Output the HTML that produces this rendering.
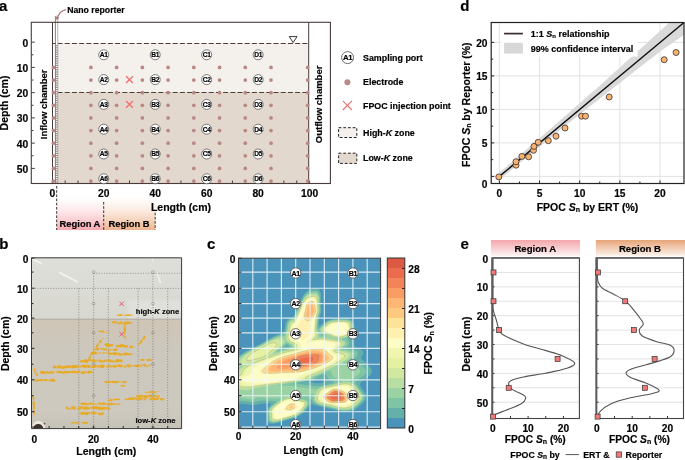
<!DOCTYPE html>
<html><head><meta charset="utf-8"><style>
html,body{margin:0;padding:0;background:#fff;}
body{width:685px;height:460px;overflow:hidden;position:relative;}
svg{position:absolute;left:0;top:0;will-change:transform;}
text{font-family:"Liberation Sans",sans-serif;stroke:#000;stroke-width:0.18px;}
</style></head><body>
<svg width="685" height="460" viewBox="0 0 685 460">
<text x="-1.00" y="10.50" font-size="15" font-weight="bold" text-anchor="start" fill="#000" >a</text>
<rect x="57.5" y="43" width="251.2" height="49.3" fill="#f4f0ec"/>
<rect x="57.5" y="92.3" width="251.2" height="91.2" fill="#e3d8cd"/>
<line x1="57.5" y1="43.5" x2="308.7" y2="43.5" stroke="#4d3d3d" stroke-width="1.05" stroke-dasharray="5 2.2"/>
<line x1="57.5" y1="92.5" x2="308.7" y2="92.5" stroke="#4d3d3d" stroke-width="1.05" stroke-dasharray="5 2.2"/>
<rect x="55.3" y="16.2" width="2.5" height="167.3" fill="#fff"/>
<path d="M55.4,16.2V183.5" stroke="#6a6060" stroke-width="0.8"/>
<path d="M57.8,16.2V183.5" stroke="#aaa2a2" stroke-width="0.8"/>
<path d="M55.4,16.2H57.8" stroke="#999" stroke-width="0.6"/>
<path d="M55.6,45.6H57.6M55.6,47.8H57.6M55.6,50.0H57.6M55.6,52.2H57.6M55.6,54.4H57.6M55.6,56.6H57.6M55.6,58.8H57.6M55.6,61.0H57.6M55.6,63.2H57.6M55.6,65.4H57.6M55.6,67.6H57.6M55.6,69.8H57.6M55.6,72.0H57.6M55.6,74.2H57.6M55.6,76.4H57.6M55.6,78.6H57.6M55.6,80.8H57.6M55.6,83.0H57.6M55.6,85.2H57.6M55.6,87.4H57.6M55.6,89.6H57.6M55.6,91.8H57.6M55.6,94.0H57.6M55.6,96.2H57.6M55.6,98.4H57.6M55.6,100.6H57.6M55.6,102.8H57.6M55.6,105.0H57.6M55.6,107.2H57.6M55.6,109.4H57.6M55.6,111.6H57.6M55.6,113.8H57.6M55.6,116.0H57.6M55.6,118.2H57.6M55.6,120.4H57.6M55.6,122.6H57.6M55.6,124.8H57.6M55.6,127.0H57.6M55.6,129.2H57.6M55.6,131.4H57.6M55.6,133.6H57.6M55.6,135.8H57.6M55.6,138.0H57.6M55.6,140.2H57.6M55.6,142.4H57.6M55.6,144.6H57.6M55.6,146.8H57.6M55.6,149.0H57.6M55.6,151.2H57.6M55.6,153.4H57.6M55.6,155.6H57.6M55.6,157.8H57.6M55.6,160.0H57.6M55.6,162.2H57.6M55.6,164.4H57.6M55.6,166.6H57.6M55.6,168.8H57.6M55.6,171.0H57.6M55.6,173.2H57.6M55.6,175.4H57.6M55.6,177.6H57.6M55.6,179.8H57.6M55.6,182.0H57.6" stroke="#5a5050" stroke-width="0.75" fill="none"/>
<path d="M52.5,43.5H55.4" stroke="#4d3d3d" stroke-width="1.05"/>
<line x1="52.5" y1="22.3" x2="52.5" y2="183.5" stroke="#4a3b3b" stroke-width="1"/>
<line x1="308.7" y1="22.3" x2="308.7" y2="183.5" stroke="#4a3b3b" stroke-width="1"/>
<rect x="31.3" y="22.3" width="299.1" height="161.2" fill="none" stroke="#4a3b3b" stroke-width="1.1"/>
<path d="M31.3,42.15h3.5M31.3,54.77h2.2M31.3,67.40h3.5M31.3,80.03h2.2M31.3,92.65h3.5M31.3,105.28h2.2M31.3,117.90h3.5M31.3,130.53h2.2M31.3,143.15h3.5M31.3,155.78h2.2M31.3,168.40h3.5M52.30,183.5v-3M65.16,183.5v-3M78.03,183.5v-3M90.89,183.5v-3M103.76,183.5v-3M116.62,183.5v-3M129.49,183.5v-3M142.35,183.5v-3M155.22,183.5v-3M168.08,183.5v-3M180.95,183.5v-3M193.81,183.5v-3M206.68,183.5v-3M219.55,183.5v-3M232.41,183.5v-3M245.27,183.5v-3M258.14,183.5v-3M271.00,183.5v-3M283.87,183.5v-3M296.74,183.5v-3M309.60,183.5v-3" stroke="#4a3b3b" stroke-width="1" fill="none"/>
<text x="28.20" y="46.65" font-size="10.3" font-weight="bold" text-anchor="end" fill="#000" >0</text>
<text x="28.20" y="71.90" font-size="10.3" font-weight="bold" text-anchor="end" fill="#000" >10</text>
<text x="28.20" y="97.15" font-size="10.3" font-weight="bold" text-anchor="end" fill="#000" >20</text>
<text x="28.20" y="122.40" font-size="10.3" font-weight="bold" text-anchor="end" fill="#000" >30</text>
<text x="28.20" y="147.65" font-size="10.3" font-weight="bold" text-anchor="end" fill="#000" >40</text>
<text x="28.20" y="172.90" font-size="10.3" font-weight="bold" text-anchor="end" fill="#000" >50</text>
<text x="52.30" y="197.00" font-size="10.3" font-weight="bold" text-anchor="middle" fill="#000" >0</text>
<text x="103.76" y="197.00" font-size="10.3" font-weight="bold" text-anchor="middle" fill="#000" >20</text>
<text x="155.22" y="197.00" font-size="10.3" font-weight="bold" text-anchor="middle" fill="#000" >40</text>
<text x="206.68" y="197.00" font-size="10.3" font-weight="bold" text-anchor="middle" fill="#000" >60</text>
<text x="258.14" y="197.00" font-size="10.3" font-weight="bold" text-anchor="middle" fill="#000" >80</text>
<text x="309.60" y="197.00" font-size="10.3" font-weight="bold" text-anchor="middle" fill="#000" >100</text>
<text transform="translate(8.3,103) rotate(-90)" font-size="10.5" font-weight="bold" text-anchor="middle" fill="#000">Depth (cm)</text>
<text transform="translate(47,104.3) rotate(-90)" font-size="9.5" font-weight="bold" text-anchor="middle" fill="#000">Inflow chamber</text>
<text transform="translate(322.4,104.4) rotate(-90)" font-size="9.5" font-weight="bold" text-anchor="middle" fill="#000">Outflow chamber</text>
<g fill="#b98784"><circle cx="53.40" cy="67.40" r="1.85"/><circle cx="53.40" cy="80.03" r="1.85"/><circle cx="53.40" cy="92.65" r="1.85"/><circle cx="53.40" cy="105.28" r="1.85"/><circle cx="53.40" cy="117.90" r="1.85"/><circle cx="53.40" cy="130.53" r="1.85"/><circle cx="53.40" cy="143.15" r="1.85"/><circle cx="53.40" cy="155.78" r="1.85"/><circle cx="53.40" cy="168.40" r="1.85"/><circle cx="53.40" cy="181.03" r="1.85"/><circle cx="90.89" cy="67.40" r="1.85"/><circle cx="90.89" cy="80.03" r="1.85"/><circle cx="90.89" cy="92.65" r="1.85"/><circle cx="90.89" cy="105.28" r="1.85"/><circle cx="90.89" cy="117.90" r="1.85"/><circle cx="90.89" cy="130.53" r="1.85"/><circle cx="90.89" cy="143.15" r="1.85"/><circle cx="90.89" cy="155.78" r="1.85"/><circle cx="90.89" cy="168.40" r="1.85"/><circle cx="90.89" cy="181.03" r="1.85"/><circle cx="116.62" cy="67.40" r="1.85"/><circle cx="116.62" cy="80.03" r="1.85"/><circle cx="116.62" cy="92.65" r="1.85"/><circle cx="116.62" cy="105.28" r="1.85"/><circle cx="116.62" cy="117.90" r="1.85"/><circle cx="116.62" cy="130.53" r="1.85"/><circle cx="116.62" cy="143.15" r="1.85"/><circle cx="116.62" cy="155.78" r="1.85"/><circle cx="116.62" cy="168.40" r="1.85"/><circle cx="116.62" cy="181.03" r="1.85"/><circle cx="142.35" cy="67.40" r="1.85"/><circle cx="142.35" cy="80.03" r="1.85"/><circle cx="142.35" cy="92.65" r="1.85"/><circle cx="142.35" cy="105.28" r="1.85"/><circle cx="142.35" cy="117.90" r="1.85"/><circle cx="142.35" cy="130.53" r="1.85"/><circle cx="142.35" cy="143.15" r="1.85"/><circle cx="142.35" cy="155.78" r="1.85"/><circle cx="142.35" cy="168.40" r="1.85"/><circle cx="142.35" cy="181.03" r="1.85"/><circle cx="168.08" cy="67.40" r="1.85"/><circle cx="168.08" cy="80.03" r="1.85"/><circle cx="168.08" cy="92.65" r="1.85"/><circle cx="168.08" cy="105.28" r="1.85"/><circle cx="168.08" cy="117.90" r="1.85"/><circle cx="168.08" cy="130.53" r="1.85"/><circle cx="168.08" cy="143.15" r="1.85"/><circle cx="168.08" cy="155.78" r="1.85"/><circle cx="168.08" cy="168.40" r="1.85"/><circle cx="168.08" cy="181.03" r="1.85"/><circle cx="193.81" cy="67.40" r="1.85"/><circle cx="193.81" cy="80.03" r="1.85"/><circle cx="193.81" cy="92.65" r="1.85"/><circle cx="193.81" cy="105.28" r="1.85"/><circle cx="193.81" cy="117.90" r="1.85"/><circle cx="193.81" cy="130.53" r="1.85"/><circle cx="193.81" cy="143.15" r="1.85"/><circle cx="193.81" cy="155.78" r="1.85"/><circle cx="193.81" cy="168.40" r="1.85"/><circle cx="193.81" cy="181.03" r="1.85"/><circle cx="219.55" cy="67.40" r="1.85"/><circle cx="219.55" cy="80.03" r="1.85"/><circle cx="219.55" cy="92.65" r="1.85"/><circle cx="219.55" cy="105.28" r="1.85"/><circle cx="219.55" cy="117.90" r="1.85"/><circle cx="219.55" cy="130.53" r="1.85"/><circle cx="219.55" cy="143.15" r="1.85"/><circle cx="219.55" cy="155.78" r="1.85"/><circle cx="219.55" cy="168.40" r="1.85"/><circle cx="219.55" cy="181.03" r="1.85"/><circle cx="245.27" cy="67.40" r="1.85"/><circle cx="245.27" cy="80.03" r="1.85"/><circle cx="245.27" cy="92.65" r="1.85"/><circle cx="245.27" cy="105.28" r="1.85"/><circle cx="245.27" cy="117.90" r="1.85"/><circle cx="245.27" cy="130.53" r="1.85"/><circle cx="245.27" cy="143.15" r="1.85"/><circle cx="245.27" cy="155.78" r="1.85"/><circle cx="245.27" cy="168.40" r="1.85"/><circle cx="245.27" cy="181.03" r="1.85"/><circle cx="271.00" cy="67.40" r="1.85"/><circle cx="271.00" cy="80.03" r="1.85"/><circle cx="271.00" cy="92.65" r="1.85"/><circle cx="271.00" cy="105.28" r="1.85"/><circle cx="271.00" cy="117.90" r="1.85"/><circle cx="271.00" cy="130.53" r="1.85"/><circle cx="271.00" cy="143.15" r="1.85"/><circle cx="271.00" cy="155.78" r="1.85"/><circle cx="271.00" cy="168.40" r="1.85"/><circle cx="271.00" cy="181.03" r="1.85"/><circle cx="307.70" cy="67.40" r="1.85"/><circle cx="307.70" cy="80.03" r="1.85"/><circle cx="307.70" cy="92.65" r="1.85"/><circle cx="307.70" cy="105.28" r="1.85"/><circle cx="307.70" cy="117.90" r="1.85"/><circle cx="307.70" cy="130.53" r="1.85"/><circle cx="307.70" cy="143.15" r="1.85"/><circle cx="307.70" cy="155.78" r="1.85"/><circle cx="307.70" cy="168.40" r="1.85"/><circle cx="307.70" cy="181.03" r="1.85"/></g>
<path d="M126.09,76.20L132.89,83.00M126.09,83.00L132.89,76.20" stroke="#f27070" stroke-width="1.3" fill="none"/>
<path d="M126.09,101.00L132.89,107.80M126.09,107.80L132.89,101.00" stroke="#f27070" stroke-width="1.3" fill="none"/>
<circle cx="103.76" cy="54.80" r="5.0" fill="#fff" stroke="#5a5a5a" stroke-width="0.8"/>
<text x="103.76" y="57.21" font-size="6.7" font-weight="bold" text-anchor="middle" fill="#000" letter-spacing="-0.3">A1</text>
<circle cx="103.76" cy="79.60" r="5.0" fill="#fff" stroke="#5a5a5a" stroke-width="0.8"/>
<text x="103.76" y="82.01" font-size="6.7" font-weight="bold" text-anchor="middle" fill="#000" letter-spacing="-0.3">A2</text>
<circle cx="103.76" cy="104.40" r="5.0" fill="#fff" stroke="#5a5a5a" stroke-width="0.8"/>
<text x="103.76" y="106.81" font-size="6.7" font-weight="bold" text-anchor="middle" fill="#000" letter-spacing="-0.3">A3</text>
<circle cx="103.76" cy="129.20" r="5.0" fill="#fff" stroke="#5a5a5a" stroke-width="0.8"/>
<text x="103.76" y="131.61" font-size="6.7" font-weight="bold" text-anchor="middle" fill="#000" letter-spacing="-0.3">A4</text>
<circle cx="103.76" cy="154.00" r="5.0" fill="#fff" stroke="#5a5a5a" stroke-width="0.8"/>
<text x="103.76" y="156.41" font-size="6.7" font-weight="bold" text-anchor="middle" fill="#000" letter-spacing="-0.3">A5</text>
<circle cx="103.76" cy="178.80" r="5.0" fill="#fff" stroke="#5a5a5a" stroke-width="0.8"/>
<text x="103.76" y="181.21" font-size="6.7" font-weight="bold" text-anchor="middle" fill="#000" letter-spacing="-0.3">A6</text>
<circle cx="155.22" cy="54.80" r="5.0" fill="#fff" stroke="#5a5a5a" stroke-width="0.8"/>
<text x="155.22" y="57.21" font-size="6.7" font-weight="bold" text-anchor="middle" fill="#000" letter-spacing="-0.3">B1</text>
<circle cx="155.22" cy="79.60" r="5.0" fill="#fff" stroke="#5a5a5a" stroke-width="0.8"/>
<text x="155.22" y="82.01" font-size="6.7" font-weight="bold" text-anchor="middle" fill="#000" letter-spacing="-0.3">B2</text>
<circle cx="155.22" cy="104.40" r="5.0" fill="#fff" stroke="#5a5a5a" stroke-width="0.8"/>
<text x="155.22" y="106.81" font-size="6.7" font-weight="bold" text-anchor="middle" fill="#000" letter-spacing="-0.3">B3</text>
<circle cx="155.22" cy="129.20" r="5.0" fill="#fff" stroke="#5a5a5a" stroke-width="0.8"/>
<text x="155.22" y="131.61" font-size="6.7" font-weight="bold" text-anchor="middle" fill="#000" letter-spacing="-0.3">B4</text>
<circle cx="155.22" cy="154.00" r="5.0" fill="#fff" stroke="#5a5a5a" stroke-width="0.8"/>
<text x="155.22" y="156.41" font-size="6.7" font-weight="bold" text-anchor="middle" fill="#000" letter-spacing="-0.3">B5</text>
<circle cx="155.22" cy="178.80" r="5.0" fill="#fff" stroke="#5a5a5a" stroke-width="0.8"/>
<text x="155.22" y="181.21" font-size="6.7" font-weight="bold" text-anchor="middle" fill="#000" letter-spacing="-0.3">B6</text>
<circle cx="206.68" cy="54.80" r="5.0" fill="#fff" stroke="#5a5a5a" stroke-width="0.8"/>
<text x="206.68" y="57.21" font-size="6.7" font-weight="bold" text-anchor="middle" fill="#000" letter-spacing="-0.3">C1</text>
<circle cx="206.68" cy="79.60" r="5.0" fill="#fff" stroke="#5a5a5a" stroke-width="0.8"/>
<text x="206.68" y="82.01" font-size="6.7" font-weight="bold" text-anchor="middle" fill="#000" letter-spacing="-0.3">C2</text>
<circle cx="206.68" cy="104.40" r="5.0" fill="#fff" stroke="#5a5a5a" stroke-width="0.8"/>
<text x="206.68" y="106.81" font-size="6.7" font-weight="bold" text-anchor="middle" fill="#000" letter-spacing="-0.3">C3</text>
<circle cx="206.68" cy="129.20" r="5.0" fill="#fff" stroke="#5a5a5a" stroke-width="0.8"/>
<text x="206.68" y="131.61" font-size="6.7" font-weight="bold" text-anchor="middle" fill="#000" letter-spacing="-0.3">C4</text>
<circle cx="206.68" cy="154.00" r="5.0" fill="#fff" stroke="#5a5a5a" stroke-width="0.8"/>
<text x="206.68" y="156.41" font-size="6.7" font-weight="bold" text-anchor="middle" fill="#000" letter-spacing="-0.3">C5</text>
<circle cx="206.68" cy="178.80" r="5.0" fill="#fff" stroke="#5a5a5a" stroke-width="0.8"/>
<text x="206.68" y="181.21" font-size="6.7" font-weight="bold" text-anchor="middle" fill="#000" letter-spacing="-0.3">C6</text>
<circle cx="258.14" cy="54.80" r="5.0" fill="#fff" stroke="#5a5a5a" stroke-width="0.8"/>
<text x="258.14" y="57.21" font-size="6.7" font-weight="bold" text-anchor="middle" fill="#000" letter-spacing="-0.3">D1</text>
<circle cx="258.14" cy="79.60" r="5.0" fill="#fff" stroke="#5a5a5a" stroke-width="0.8"/>
<text x="258.14" y="82.01" font-size="6.7" font-weight="bold" text-anchor="middle" fill="#000" letter-spacing="-0.3">D2</text>
<circle cx="258.14" cy="104.40" r="5.0" fill="#fff" stroke="#5a5a5a" stroke-width="0.8"/>
<text x="258.14" y="106.81" font-size="6.7" font-weight="bold" text-anchor="middle" fill="#000" letter-spacing="-0.3">D3</text>
<circle cx="258.14" cy="129.20" r="5.0" fill="#fff" stroke="#5a5a5a" stroke-width="0.8"/>
<text x="258.14" y="131.61" font-size="6.7" font-weight="bold" text-anchor="middle" fill="#000" letter-spacing="-0.3">D4</text>
<circle cx="258.14" cy="154.00" r="5.0" fill="#fff" stroke="#5a5a5a" stroke-width="0.8"/>
<text x="258.14" y="156.41" font-size="6.7" font-weight="bold" text-anchor="middle" fill="#000" letter-spacing="-0.3">D5</text>
<circle cx="258.14" cy="178.80" r="5.0" fill="#fff" stroke="#5a5a5a" stroke-width="0.8"/>
<text x="258.14" y="181.21" font-size="6.7" font-weight="bold" text-anchor="middle" fill="#000" letter-spacing="-0.3">D6</text>
<path d="M289.3,36.6H297L293.1,42.6Z" fill="#fff" stroke="#222" stroke-width="0.9"/>
<path d="M66,9.6C61.5,10.6 58.5,13.5 57.2,18.5" stroke="#b07a78" stroke-width="1.3" fill="none"/>
<path d="M55.2,16.8L57,20.5L59.2,17.3Z" fill="#b07a78"/>
<text x="67.20" y="12.80" font-size="8.7" font-weight="bold" text-anchor="start" fill="#000" >Nano reporter</text>
<defs><linearGradient id="gA" x1="0" y1="0" x2="0" y2="1"><stop offset="0" stop-color="#fde4e6" stop-opacity="0"/><stop offset="1" stop-color="#f5a9b0"/></linearGradient><linearGradient id="gB" x1="0" y1="0" x2="0" y2="1"><stop offset="0" stop-color="#fae3d2" stop-opacity="0"/><stop offset="1" stop-color="#eeb48e"/></linearGradient></defs>
<rect x="56.7" y="196" width="47" height="34" fill="url(#gA)"/>
<rect x="103.7" y="196" width="51.5" height="34" fill="url(#gB)"/>
<path d="M56.7,186V230M103.7,202V230M155.2,212.7V230" stroke="#333" stroke-width="1" stroke-dasharray="2.6 1.6" fill="none"/>
<text x="181.00" y="210.80" font-size="10.5" font-weight="bold" text-anchor="middle" fill="#000" >Length (cm)</text>
<text x="80.00" y="227.30" font-size="9.4" font-weight="bold" text-anchor="middle" fill="#000" >Region A</text>
<text x="129.00" y="227.30" font-size="9.4" font-weight="bold" text-anchor="middle" fill="#000" >Region B</text>
<circle cx="347.60" cy="57.60" r="6.0" fill="#fff" stroke="#5a5a5a" stroke-width="0.9"/>
<text x="347.60" y="60.41" font-size="7.8" font-weight="bold" text-anchor="middle" fill="#000" letter-spacing="-0.3">A1</text>
<text x="363.00" y="60.60" font-size="8.9" font-weight="bold" text-anchor="start" fill="#000" >Sampling port</text>
<circle cx="347.4" cy="82.2" r="3" fill="#b98a87"/>
<text x="363.00" y="85.40" font-size="8.9" font-weight="bold" text-anchor="start" fill="#000" >Electrode</text>
<path d="M342.80,100.80L352.00,110.00M342.80,110.00L352.00,100.80" stroke="#f27070" stroke-width="1.1" fill="none"/>
<text x="363.00" y="108.50" font-size="8.9" font-weight="bold" text-anchor="start" fill="#000" >FPOC injection point</text>
<rect x="338.6" y="127.7" width="18.2" height="9.8" fill="#f4f0ec" stroke="#222" stroke-width="1" stroke-dasharray="2.8 1.9"/>
<text x="363.00" y="135.80" font-size="8.9" font-weight="bold" text-anchor="start" fill="#000" >High-<tspan font-style="italic">K</tspan> zone</text>
<rect x="338.6" y="153.2" width="18.2" height="10.2" fill="#e3d8cd" stroke="#222" stroke-width="1" stroke-dasharray="2.8 1.9"/>
<text x="363.00" y="161.30" font-size="8.9" font-weight="bold" text-anchor="start" fill="#000" >Low-<tspan font-style="italic">K</tspan> zone</text>
<text x="460.20" y="10.60" font-size="15" font-weight="bold" text-anchor="start" fill="#000" >d</text>
<path d="M499.40,22.5V183.5M491.2,176.40H684M539.55,22.5V183.5M491.2,142.90H684M579.70,22.5V183.5M491.2,109.40H684M619.85,22.5V183.5M491.2,75.90H684M660.00,22.5V183.5M491.2,42.40H684" stroke="#e2e2e2" stroke-width="1" fill="none"/>
<clipPath id="clipd"><rect x="491.2" y="22.5" width="192.8" height="161"/></clipPath>
<polygon points="499.40,172.72 504.18,168.59 508.95,164.47 513.73,160.35 518.51,156.23 523.28,152.11 528.06,147.99 532.84,143.87 537.61,139.75 542.39,135.63 547.17,131.51 551.95,127.39 556.72,123.27 561.50,119.12 566.28,114.95 571.05,110.78 575.83,106.60 580.61,102.43 585.38,98.26 590.16,94.08 594.94,89.91 599.71,85.74 604.49,81.41 609.27,77.08 614.04,72.74 618.82,68.41 623.60,64.08 628.37,59.75 633.15,55.42 637.93,51.09 642.70,46.76 647.48,42.43 652.26,38.10 657.04,33.77 661.81,29.42 666.59,25.05 671.37,20.68 676.14,16.30 680.92,11.93 685.70,7.56 685.70,33.69 680.92,37.02 676.14,40.34 671.37,43.67 666.59,46.99 661.81,50.32 657.04,53.90 652.26,57.63 647.48,61.37 642.70,65.11 637.93,68.84 633.15,72.58 628.37,76.31 623.60,80.05 618.82,83.78 614.04,87.52 609.27,91.26 604.49,94.99 599.71,98.73 594.94,102.50 590.16,106.26 585.38,110.03 580.61,113.80 575.83,117.56 571.05,121.33 566.28,125.10 561.50,128.86 556.72,132.70 551.95,136.62 547.17,140.54 542.39,144.46 537.61,148.38 532.84,152.30 528.06,156.22 523.28,160.14 518.51,164.07 513.73,167.99 508.95,171.91 504.18,175.83 499.40,179.75" fill="#d9d9d9" clip-path="url(#clipd)"/>
<rect x="501" y="23.2" width="136.5" height="33.4" fill="#fff"/>
<line x1="499.40" y1="176.40" x2="684" y2="22.5" stroke="#111" stroke-width="1.4"/>
<line x1="504.1" y1="33.6" x2="522.9" y2="33.6" stroke="#3a2c2c" stroke-width="1.7"/>
<rect x="504.1" y="42.8" width="18.8" height="10.8" fill="#d8d8d8"/>
<text x="530.70" y="36.90" font-size="9" font-weight="bold" text-anchor="start" fill="#000" >1:1 <tspan font-style="italic">S</tspan><tspan font-size="6" dy="1">n</tspan><tspan dy="-1"> relationship</tspan></text>
<text x="530.70" y="52.00" font-size="9" font-weight="bold" text-anchor="start" fill="#000" >99% confidence interval</text>
<g fill="#f7b370" stroke="#3a3030" stroke-width="0.8"><circle cx="498.8" cy="176.9" r="3"/><circle cx="516" cy="165.2" r="3"/><circle cx="516" cy="161.7" r="3"/><circle cx="521.9" cy="156.4" r="3"/><circle cx="528.6" cy="156.8" r="3"/><circle cx="533.5" cy="150.3" r="3"/><circle cx="534" cy="146.4" r="3"/><circle cx="538.2" cy="142.3" r="3"/><circle cx="548.3" cy="140.7" r="3"/><circle cx="556" cy="136.2" r="3"/><circle cx="565" cy="128" r="3"/><circle cx="581.6" cy="116.2" r="3"/><circle cx="585.5" cy="116.2" r="3"/><circle cx="609.2" cy="97" r="3"/><circle cx="664.2" cy="59.7" r="3"/><circle cx="676.1" cy="52.5" r="3"/></g>
<path d="M491.2,176.40h3M499.40,183.5v-3M491.2,159.65h2M519.48,183.5v-2M491.2,142.90h3M539.55,183.5v-3M491.2,126.15h2M559.62,183.5v-2M491.2,109.40h3M579.70,183.5v-3M491.2,92.65h2M599.77,183.5v-2M491.2,75.90h3M619.85,183.5v-3M491.2,59.15h2M639.92,183.5v-2M491.2,42.40h3M660.00,183.5v-3" stroke="#222" stroke-width="1" fill="none"/>
<rect x="491.2" y="22.5" width="192.8" height="161" fill="none" stroke="#222" stroke-width="1.2"/>
<text x="487.50" y="147.40" font-size="10.2" font-weight="bold" text-anchor="end" fill="#000" >5</text>
<text x="487.50" y="113.90" font-size="10.2" font-weight="bold" text-anchor="end" fill="#000" >10</text>
<text x="487.50" y="80.40" font-size="10.2" font-weight="bold" text-anchor="end" fill="#000" >15</text>
<text x="487.50" y="46.90" font-size="10.2" font-weight="bold" text-anchor="end" fill="#000" >20</text>
<text x="487.50" y="187.60" font-size="10.2" font-weight="bold" text-anchor="end" fill="#000" >0</text>
<text x="499.40" y="197.30" font-size="10.2" font-weight="bold" text-anchor="middle" fill="#000" >0</text>
<text x="539.55" y="197.30" font-size="10.2" font-weight="bold" text-anchor="middle" fill="#000" >5</text>
<text x="579.70" y="197.30" font-size="10.2" font-weight="bold" text-anchor="middle" fill="#000" >10</text>
<text x="619.85" y="197.30" font-size="10.2" font-weight="bold" text-anchor="middle" fill="#000" >15</text>
<text x="660.00" y="197.30" font-size="10.2" font-weight="bold" text-anchor="middle" fill="#000" >20</text>
<text x="587.50" y="211.00" font-size="10.5" font-weight="bold" text-anchor="middle" fill="#000" >FPOC <tspan font-style="italic">S</tspan><tspan font-size="7" dy="1.2">n</tspan><tspan dy="-1.2"> by ERT (%)</tspan></text>
<text transform="translate(469.6,104.7) rotate(-90)" font-size="10.5" font-weight="bold" text-anchor="middle" fill="#000">FPOC <tspan font-style="italic">S</tspan><tspan font-size="7" dy="1.2">n</tspan><tspan dy="-1.2"> by Reporter (%)</tspan></text>
<text x="460.60" y="248.80" font-size="15" font-weight="bold" text-anchor="start" fill="#000" >e</text>
<linearGradient id="hA" x1="0" y1="0" x2="0" y2="1"><stop offset="0" stop-color="#f4a6ab"/><stop offset="1" stop-color="#fdf2f2"/></linearGradient>
<linearGradient id="hB" x1="0" y1="0" x2="0" y2="1"><stop offset="0" stop-color="#e6a479"/><stop offset="1" stop-color="#fcf2ea"/></linearGradient>
<rect x="490.9" y="240" width="89.1" height="15.8" fill="url(#hA)"/>
<rect x="595.9" y="240" width="89.1" height="15.8" fill="url(#hB)"/>
<text x="535.30" y="252.30" font-size="9.6" font-weight="bold" text-anchor="middle" fill="#000" >Region A</text>
<text x="640.00" y="252.30" font-size="9.6" font-weight="bold" text-anchor="middle" fill="#000" >Region B</text>
<path d="M492.0,272.42H579.4M492.0,286.84H579.4M492.0,301.26H579.4M492.0,315.68H579.4M492.0,330.10H579.4M492.0,344.52H579.4M492.0,358.94H579.4M492.0,373.36H579.4M492.0,387.78H579.4M492.0,402.20H579.4" stroke="#e3e3e3" stroke-width="1" fill="none"/>
<clipPath id="ce492"><rect x="492.0" y="257.9" width="87.4" height="160.6"/></clipPath>
<path d="M492.90,258.00C492.90,265.00 492.83,291.33 492.90,300.00C492.97,308.67 492.73,306.67 493.30,310.00C493.87,313.33 495.33,316.70 496.30,320.00C497.27,323.30 497.83,327.27 499.10,329.80C500.37,332.33 499.83,332.85 503.90,335.20C507.97,337.55 516.62,341.37 523.50,343.90C530.38,346.43 538.68,348.40 545.20,350.40C551.72,352.40 557.70,353.80 562.60,355.90C567.50,358.00 573.87,360.93 574.60,363.00C575.33,365.07 571.90,366.58 567.00,368.30C562.10,370.02 552.45,371.85 545.20,373.30C537.95,374.75 529.30,375.73 523.50,377.00C517.70,378.27 512.87,379.53 510.40,380.90C507.93,382.27 508.33,383.75 508.70,385.20C509.07,386.65 510.13,387.97 512.60,389.60C515.07,391.23 521.32,393.55 523.50,395.00C525.68,396.45 526.07,396.85 525.70,398.30C525.33,399.75 524.58,401.72 521.30,403.70C518.02,405.68 510.35,408.38 506.00,410.20C501.65,412.02 497.43,413.30 495.20,414.60C492.97,415.90 493.03,417.43 492.60,418.00" stroke="#555" stroke-width="1.1" fill="none" clip-path="url(#ce492)"/>
<path d="M492.0,258.00h2.5M492.0,272.42h2.5M492.0,286.84h2.5M492.0,301.26h2.5M492.0,315.68h2.5M492.0,330.10h2.5M492.0,344.52h2.5M492.0,358.94h2.5M492.0,373.36h2.5M492.0,387.78h2.5M492.0,402.20h2.5M492.0,416.62h2.5M492.80,418.5v-2.5M510.45,418.5v-2.5M528.10,418.5v-2.5M545.75,418.5v-2.5M563.40,418.5v-2.5" stroke="#333" stroke-width="1" fill="none"/>
<rect x="492.0" y="257.9" width="87.4" height="160.6" fill="none" stroke="#444" stroke-width="1.1"/>
<line x1="492.4" y1="257.9" x2="492.4" y2="418.5" stroke="#5a5a5a" stroke-width="1.7"/>
<line x1="492.0" y1="257.9" x2="579.4" y2="257.9" stroke="#666" stroke-width="1.8"/>
<g fill="#f07878" stroke="#333" stroke-width="0.7"><rect x="491.00" y="269.92" width="5" height="5"/><rect x="491.00" y="298.76" width="5" height="5"/><rect x="496.60" y="327.60" width="5" height="5"/><rect x="555.10" y="356.44" width="5" height="5"/><rect x="506.20" y="385.28" width="5" height="5"/><rect x="490.50" y="414.12" width="5" height="5"/></g>
<text x="492.80" y="431.60" font-size="10.2" font-weight="bold" text-anchor="middle" fill="#000" >0</text>
<text x="528.10" y="431.60" font-size="10.2" font-weight="bold" text-anchor="middle" fill="#000" >10</text>
<text x="563.40" y="431.60" font-size="10.2" font-weight="bold" text-anchor="middle" fill="#000" >20</text>
<text x="535.30" y="443.20" font-size="10.2" font-weight="bold" text-anchor="middle" fill="#000" >FPOC <tspan font-style="italic">S</tspan><tspan font-size="7" dy="1.2">n</tspan><tspan dy="-1.2"> (%)</tspan></text>
<path d="M596.1,272.42H683.5M596.1,286.84H683.5M596.1,301.26H683.5M596.1,315.68H683.5M596.1,330.10H683.5M596.1,344.52H683.5M596.1,358.94H683.5M596.1,373.36H683.5M596.1,387.78H683.5M596.1,402.20H683.5" stroke="#e3e3e3" stroke-width="1" fill="none"/>
<clipPath id="ce596"><rect x="596.1" y="257.9" width="87.4" height="160.6"/></clipPath>
<path d="M597.30,258.00C597.30,260.40 597.28,269.23 597.30,272.40C597.32,275.57 597.22,275.32 597.40,277.00C597.58,278.68 597.57,280.62 598.40,282.50C599.23,284.38 599.92,286.38 602.40,288.30C604.88,290.22 609.50,291.90 613.30,294.00C617.10,296.10 621.95,298.42 625.20,300.90C628.45,303.38 630.27,305.93 632.80,308.90C635.33,311.87 638.65,316.17 640.40,318.70C642.15,321.23 643.48,322.25 643.30,324.10C643.12,325.95 639.52,327.87 639.30,329.80C639.08,331.73 639.10,333.72 642.00,335.70C644.90,337.68 652.07,340.15 656.70,341.70C661.33,343.25 666.90,343.55 669.80,345.00C672.70,346.45 674.10,348.40 674.10,350.40C674.10,352.40 673.05,355.00 669.80,357.00C666.55,359.00 660.40,360.60 654.60,362.40C648.80,364.20 639.72,366.17 635.00,367.80C630.28,369.43 627.02,370.57 626.30,372.20C625.58,373.83 627.43,375.80 630.70,377.60C633.97,379.40 641.20,380.93 645.90,383.00C650.60,385.07 657.82,388.25 658.90,390.00C659.98,391.75 657.47,392.12 652.40,393.50C647.33,394.88 635.38,396.60 628.50,398.30C621.62,400.00 615.82,401.53 611.10,403.70C606.38,405.87 602.55,408.92 600.20,411.30C597.85,413.68 597.53,416.88 597.00,418.00" stroke="#555" stroke-width="1.1" fill="none" clip-path="url(#ce596)"/>
<path d="M596.1,258.00h2.5M596.1,272.42h2.5M596.1,286.84h2.5M596.1,301.26h2.5M596.1,315.68h2.5M596.1,330.10h2.5M596.1,344.52h2.5M596.1,358.94h2.5M596.1,373.36h2.5M596.1,387.78h2.5M596.1,402.20h2.5M596.1,416.62h2.5M596.90,418.5v-2.5M614.55,418.5v-2.5M632.20,418.5v-2.5M649.85,418.5v-2.5M667.50,418.5v-2.5" stroke="#333" stroke-width="1" fill="none"/>
<rect x="596.1" y="257.9" width="87.4" height="160.6" fill="none" stroke="#444" stroke-width="1.1"/>
<line x1="596.5" y1="257.9" x2="596.5" y2="418.5" stroke="#5a5a5a" stroke-width="1.7"/>
<line x1="596.1" y1="257.9" x2="683.5" y2="257.9" stroke="#666" stroke-width="1.8"/>
<g fill="#f07878" stroke="#333" stroke-width="0.7"><rect x="595.50" y="269.92" width="5" height="5"/><rect x="622.70" y="298.76" width="5" height="5"/><rect x="631.40" y="327.60" width="5" height="5"/><rect x="652.10" y="356.44" width="5" height="5"/><rect x="642.30" y="385.28" width="5" height="5"/><rect x="595.10" y="414.12" width="5" height="5"/></g>
<text x="596.90" y="431.60" font-size="10.2" font-weight="bold" text-anchor="middle" fill="#000" >0</text>
<text x="632.20" y="431.60" font-size="10.2" font-weight="bold" text-anchor="middle" fill="#000" >10</text>
<text x="667.50" y="431.60" font-size="10.2" font-weight="bold" text-anchor="middle" fill="#000" >20</text>
<text x="639.40" y="443.20" font-size="10.2" font-weight="bold" text-anchor="middle" fill="#000" >FPOC <tspan font-style="italic">S</tspan><tspan font-size="7" dy="1.2">n</tspan><tspan dy="-1.2"> (%)</tspan></text>
<text x="488.20" y="262.50" font-size="10.2" font-weight="bold" text-anchor="end" fill="#000" >0</text>
<text x="488.20" y="291.34" font-size="10.2" font-weight="bold" text-anchor="end" fill="#000" >10</text>
<text x="488.20" y="320.18" font-size="10.2" font-weight="bold" text-anchor="end" fill="#000" >20</text>
<text x="488.20" y="349.02" font-size="10.2" font-weight="bold" text-anchor="end" fill="#000" >30</text>
<text x="488.20" y="377.86" font-size="10.2" font-weight="bold" text-anchor="end" fill="#000" >40</text>
<text x="488.20" y="406.70" font-size="10.2" font-weight="bold" text-anchor="end" fill="#000" >50</text>
<text transform="translate(469.8,344) rotate(-90)" font-size="10.5" font-weight="bold" text-anchor="middle" fill="#000">Depth (cm)</text>
<text x="510.30" y="457.80" font-size="8.8" font-weight="bold" text-anchor="start" fill="#000" >FPOC <tspan font-style="italic">S</tspan><tspan font-size="6.5" dy="1.2">n</tspan><tspan dy="-1.2"> by</tspan></text>
<line x1="565.6" y1="454.6" x2="578.9" y2="454.6" stroke="#555" stroke-width="1"/>
<text x="583.20" y="457.80" font-size="8.8" font-weight="bold" text-anchor="start" fill="#000" >ERT &amp;</text>
<rect x="616.2" y="451.9" width="5.3" height="5.3" fill="#f07878" stroke="#333" stroke-width="0.7"/>
<text x="625.60" y="457.80" font-size="8.8" font-weight="bold" text-anchor="start" fill="#000" >Reporter</text>
<text x="207.00" y="248.60" font-size="15" font-weight="bold" text-anchor="start" fill="#000" >c</text>
<clipPath id="hclip"><rect x="238.5" y="258.2" width="142.1" height="170.4"/></clipPath>
<g clip-path="url(#hclip)"><rect x="238.5" y="258.2" width="142.1" height="170.4" fill="#4a94bc"/>
<path fill="#65b1aa" fill-rule="evenodd" d="M274.8,423.5L273.2,423.7L271.8,423.7L270.2,423.5L269.2,423.2L268.2,422.5L267.8,421.9L267.3,420.9L267.0,419.9L266.8,415.9L266.4,412.9L266.6,410.9L267.1,409.4L268.1,407.9L270.8,404.9L271.1,404.4L271.0,403.9L270.2,403.7L268.8,403.5L263.8,403.5L261.2,403.8L256.8,404.8L253.8,405.0L251.2,404.8L245.2,403.9L238.8,403.4L238.4,398.4L238.3,379.4L238.4,359.4L238.5,356.9L238.8,355.7L241.8,353.7L245.2,351.6L259.2,344.4L271.2,337.8L276.2,335.3L281.8,332.9L283.2,332.1L283.8,331.6L284.2,330.9L284.6,329.9L284.9,328.4L285.5,323.9L285.9,322.4L286.4,321.4L287.4,319.9L288.4,318.9L289.8,318.1L292.8,316.8L293.2,316.4L293.8,315.7L294.8,314.0L296.2,310.8L301.6,298.4L302.9,295.9L304.6,293.4L305.8,292.1L306.8,291.2L308.2,290.2L309.2,289.7L311.2,289.1L313.8,288.5L315.8,288.3L317.2,288.5L318.2,288.9L318.8,289.3L319.3,289.9L319.9,290.9L320.6,292.9L321.0,295.9L321.0,303.4L321.4,307.9L321.5,309.9L321.0,312.9L319.7,316.9L319.2,318.9L318.9,320.9L318.8,323.4L319.0,324.9L319.2,325.5L319.8,325.5L320.8,325.0L325.2,321.7L327.2,320.6L329.8,319.7L333.2,319.1L343.2,318.6L345.8,318.6L347.8,318.8L349.8,319.2L351.8,320.1L352.9,320.9L353.6,321.9L353.8,322.4L354.1,323.4L354.7,327.4L355.9,330.9L356.1,332.4L356.0,333.4L355.6,334.4L354.0,336.9L353.6,337.9L353.5,338.9L354.0,341.9L354.0,344.4L354.3,345.9L354.6,346.4L355.1,346.9L355.8,347.4L360.7,349.4L361.8,350.1L362.8,350.9L363.3,351.9L363.3,352.9L362.8,354.4L361.3,356.9L361.1,357.9L361.3,358.4L362.1,359.4L366.7,363.4L369.6,366.4L371.1,368.4L371.6,369.4L371.9,370.4L371.9,371.9L371.7,372.9L371.1,373.9L370.4,374.9L368.2,376.8L363.8,379.9L362.5,380.9L361.0,382.4L360.4,383.4L360.2,383.9L360.1,384.4L360.2,385.4L360.9,386.9L362.2,389.3L365.1,393.4L365.8,394.9L366.2,396.4L366.2,397.4L366.1,398.4L365.4,399.9L364.0,401.9L360.8,405.1L357.2,408.1L354.8,409.7L352.8,410.7L350.8,411.3L348.2,411.8L346.2,411.9L344.2,411.9L342.2,411.7L339.8,411.3L331.1,408.9L319.8,406.6L316.8,405.8L312.8,404.4L311.8,404.3L311.2,404.4L310.2,405.2L306.9,409.4L304.0,412.4L301.2,414.6L298.8,416.1L296.2,417.3L293.2,418.3L285.5,420.4L278.2,422.7L274.8,423.5ZM323.1,382.9L324.1,382.4L324.3,381.9L324.1,381.4L323.8,380.9L322.7,379.9L321.8,379.4L320.8,379.1L319.8,379.1L318.2,379.4L312.0,380.9L310.7,381.4L310.4,381.9L311.6,382.4L312.2,382.6L314.5,382.9L317.2,383.2L320.2,383.3L323.1,382.9Z"/>
<path fill="#80c4a6" fill-rule="evenodd" d="M275.2,422.5L273.2,422.7L271.2,422.4L270.1,421.9L269.4,421.4L269.0,420.9L268.6,419.9L268.4,418.9L268.2,415.9L267.9,411.9L268.0,410.9L268.3,409.9L268.8,408.9L269.5,407.9L271.8,405.8L275.8,402.4L276.3,401.9L276.4,401.4L276.2,401.4L275.2,401.1L273.8,401.0L261.2,400.6L258.8,400.8L254.8,401.9L252.2,402.1L250.2,401.9L245.8,401.2L240.8,400.8L238.8,400.3L238.6,396.9L238.4,379.4L238.6,367.4L238.5,361.4L238.8,357.3L242.2,354.7L246.2,352.2L250.8,349.8L259.2,345.4L271.8,338.6L274.8,337.1L278.2,335.7L280.8,334.9L283.8,334.2L284.2,333.9L284.8,333.4L285.1,332.9L285.8,331.2L286.2,328.9L286.7,324.9L287.1,323.4L287.5,322.4L288.2,321.3L289.2,320.3L290.8,319.3L293.2,318.3L293.8,317.9L294.2,317.2L296.8,311.9L301.5,300.9L303.1,297.9L304.4,295.9L305.8,294.3L306.8,293.4L307.8,292.7L309.2,292.0L311.2,291.4L313.8,290.9L315.2,290.7L316.8,291.0L317.6,291.4L318.2,291.9L319.1,293.4L319.6,295.4L319.9,297.9L319.8,304.4L320.2,308.4L320.2,310.4L319.9,312.4L318.5,316.4L318.1,318.4L317.6,327.4L317.8,328.5L318.2,329.1L318.8,328.8L320.0,327.4L321.1,326.4L325.2,323.1L326.8,322.1L328.2,321.2L329.2,320.8L331.8,320.1L334.8,319.8L340.8,319.5L344.2,319.4L346.8,319.6L349.2,320.1L350.8,320.8L352.0,321.9L352.5,322.9L352.9,324.4L353.2,327.4L354.4,330.9L354.5,332.4L354.1,333.4L353.8,333.9L352.9,334.9L351.8,335.8L348.7,337.4L348.1,337.9L347.8,338.4L347.7,338.9L347.7,339.4L349.1,341.9L349.2,342.9L348.7,344.4L347.1,346.9L346.9,347.4L346.9,347.9L347.4,348.4L348.7,348.9L352.2,349.8L354.8,350.6L356.2,351.3L357.0,351.9L357.6,352.9L357.7,353.4L357.5,354.4L356.6,355.9L353.7,358.9L353.3,359.4L353.3,359.9L353.7,360.4L356.8,361.7L358.2,362.4L360.8,364.3L362.8,366.1L364.5,367.9L365.6,369.4L366.0,370.4L366.1,371.4L366.0,372.4L365.5,373.4L364.8,374.4L363.0,375.9L359.8,378.1L358.0,379.4L356.1,381.4L355.6,382.4L355.6,382.9L356.2,383.9L360.2,389.8L362.6,392.9L363.6,394.4L364.0,395.4L364.3,396.4L364.3,397.4L364.1,398.4L363.7,399.4L363.1,400.4L361.3,402.4L357.2,406.2L354.8,408.1L352.8,409.2L350.2,410.2L347.8,410.7L345.2,410.8L342.8,410.7L339.8,410.2L331.6,407.9L322.8,406.1L318.8,405.1L316.2,404.1L314.4,402.9L312.8,401.4L311.8,399.7L311.2,399.1L310.8,398.9L309.5,398.9L308.4,399.4L308.3,399.9L309.1,401.4L309.2,402.4L308.9,403.9L308.2,405.4L306.4,407.9L304.4,410.4L302.4,412.4L300.2,414.2L297.8,415.7L294.2,417.2L286.2,419.4L279.2,421.6L275.2,422.5ZM282.4,349.4L287.8,347.9L289.0,347.4L289.5,346.9L289.6,346.4L289.2,345.4L288.8,344.9L287.8,344.2L287.2,344.1L286.8,344.1L286.2,344.3L285.2,345.0L282.4,347.4L280.9,348.9L280.5,349.4L280.8,349.6L281.2,349.7L282.4,349.4ZM320.6,385.9L330.3,383.9L333.7,382.9L334.3,382.4L334.2,381.9L330.2,379.7L328.8,378.6L327.6,377.4L326.2,374.9L325.8,374.5L325.2,374.2L324.8,374.2L323.1,374.4L318.9,375.9L316.9,376.9L314.8,378.4L312.8,379.3L309.2,380.2L297.7,382.4L296.2,382.9L296.5,383.4L297.8,383.7L314.2,386.1L317.8,386.3L320.6,385.9Z"/>
<path fill="#9bd2a4" fill-rule="evenodd" d="M274.8,422.0L273.2,422.0L271.8,421.7L270.4,420.9L269.7,419.9L269.3,418.4L269.2,415.4L268.9,412.4L268.9,411.4L269.1,410.4L269.5,409.4L270.1,408.4L271.4,406.9L274.2,404.6L280.5,399.9L281.1,399.4L281.2,398.9L279.8,398.6L268.8,398.1L260.2,397.4L258.8,397.3L256.8,397.7L253.2,399.1L252.2,399.3L250.8,399.4L246.2,398.7L241.8,398.2L240.8,397.9L239.8,397.4L238.8,396.5L238.4,379.4L238.7,367.4L238.6,363.9L238.8,359.1L240.2,357.4L242.0,355.9L244.0,354.4L246.4,352.9L250.2,350.8L259.7,345.9L271.8,339.4L275.8,337.6L279.2,336.4L281.8,336.0L284.2,336.3L284.8,336.2L285.2,335.5L285.8,334.2L286.7,331.4L287.1,329.4L287.6,325.4L288.0,323.9L288.4,322.9L289.2,321.7L290.2,320.8L291.2,320.2L293.8,319.2L294.2,318.7L297.2,312.3L301.6,302.4L303.1,299.4L304.2,297.6L305.2,296.3L306.2,295.3L307.2,294.5L308.8,293.7L310.8,293.0L313.2,292.5L314.8,292.3L316.2,292.6L317.2,293.2L317.8,293.7L318.2,294.5L318.9,296.4L319.2,298.4L319.2,300.9L319.1,305.4L319.4,308.9L319.4,310.4L319.0,312.9L317.9,315.9L317.6,317.4L316.8,328.9L317.0,329.9L318.5,332.4L319.0,333.4L319.7,336.4L320.2,336.6L320.8,336.7L323.3,336.4L324.9,335.9L325.6,335.4L325.6,334.9L325.0,334.4L321.8,332.7L320.8,331.9L320.0,330.9L319.9,330.4L319.9,329.4L320.1,328.9L320.8,327.9L322.2,326.5L326.8,322.9L327.8,322.3L329.2,321.5L331.8,320.7L334.2,320.4L341.8,320.0L345.2,320.0L347.2,320.3L349.2,320.9L350.2,321.4L350.8,321.9L351.5,322.9L352.0,324.4L352.3,327.4L353.4,330.9L353.5,331.9L353.2,332.9L352.8,333.8L352.1,334.4L350.2,335.6L347.8,336.7L342.7,338.4L341.6,338.9L341.8,339.4L344.8,340.8L345.8,341.4L346.3,341.9L346.6,342.4L346.7,342.9L346.4,343.9L345.7,344.9L344.2,346.1L341.6,347.9L341.0,348.4L340.8,348.9L341.2,349.4L341.8,349.5L348.2,350.7L351.1,351.4L352.2,351.9L353.0,352.4L353.6,352.9L353.9,353.4L354.0,353.9L353.9,354.9L353.4,355.9L352.5,356.9L350.2,358.9L345.3,362.4L344.7,362.9L344.6,363.4L345.2,363.7L345.8,363.8L348.8,363.8L350.8,363.9L352.2,364.2L353.8,364.8L355.2,365.6L356.9,366.9L358.8,368.7L359.8,370.1L360.1,370.9L360.2,371.9L359.8,372.9L359.5,373.4L358.5,374.4L354.2,377.5L350.3,380.9L350.3,381.4L350.9,381.9L352.2,382.7L354.2,384.0L355.7,385.4L356.8,386.7L359.0,389.9L361.7,393.4L362.3,394.4L362.7,395.4L363.0,396.4L363.0,397.4L362.8,398.4L362.3,399.4L361.7,400.4L359.8,402.4L356.0,405.9L353.2,407.9L351.2,408.9L348.8,409.7L346.2,410.0L343.8,410.0L341.2,409.8L338.8,409.2L330.6,406.9L321.8,405.2L318.2,404.0L316.8,403.3L315.6,402.4L314.6,401.4L314.0,400.4L313.7,399.4L313.6,398.4L313.8,394.9L313.7,394.4L313.3,393.9L312.8,393.8L311.8,393.9L307.8,394.8L305.2,395.5L300.8,397.1L299.9,397.4L299.2,397.9L299.5,398.4L300.6,398.9L304.2,399.8L306.2,400.6L307.4,401.4L307.7,401.9L308.0,402.9L307.8,403.9L307.4,404.9L306.2,406.9L303.4,410.4L300.8,413.0L299.2,414.1L297.8,415.1L295.8,416.0L293.8,416.8L286.2,418.9L279.2,421.1L276.8,421.7L274.8,422.0ZM277.5,351.9L291.5,347.9L292.0,347.4L291.4,345.4L291.2,344.9L290.6,344.4L287.8,342.8L286.8,342.4L286.2,342.5L283.1,345.4L277.5,350.4L276.6,351.4L276.2,351.9L276.8,352.1L277.5,351.9ZM316.6,388.9L320.2,387.3L323.2,386.3L334.2,383.9L339.6,382.4L341.2,381.9L342.1,381.4L341.8,380.9L335.8,378.2L333.6,376.9L332.6,375.9L332.0,374.9L331.0,371.4L330.5,370.9L330.2,370.8L329.2,370.8L328.2,371.0L326.8,371.5L314.6,376.4L313.8,376.9L312.8,377.9L312.1,378.4L311.0,378.9L309.5,379.4L303.8,380.7L281.2,384.4L280.2,384.7L278.8,384.9L278.8,385.1L278.0,385.4L287.8,385.8L292.2,386.0L299.6,386.9L314.2,389.2L315.2,389.2L316.6,388.9Z"/>
<path fill="#b8dea4" fill-rule="evenodd" d="M248.8,390.0L248.2,390.2L247.2,390.4L238.8,389.6L238.6,386.4L238.5,379.4L238.8,370.0L240.3,368.4L244.1,365.4L243.8,365.3L243.2,365.3L240.2,365.4L239.2,365.2L238.8,364.9L238.8,362.4L239.6,360.4L240.6,358.9L241.8,357.4L244.1,355.4L246.2,353.9L249.5,351.9L259.8,346.6L271.2,340.4L274.8,338.9L276.8,338.2L278.2,337.8L279.8,337.6L280.8,337.7L281.8,337.9L282.2,338.2L283.7,339.4L284.6,340.4L284.7,340.9L284.6,341.9L284.0,342.9L282.8,344.4L273.4,352.9L272.5,353.9L272.8,354.1L274.1,353.9L284.2,350.9L292.8,348.6L293.4,348.4L293.8,348.2L293.9,347.9L293.3,346.4L293.0,344.9L292.8,344.7L292.2,344.3L289.2,342.7L287.7,341.4L286.4,339.9L286.1,338.9L286.0,337.9L286.1,336.4L286.4,334.9L287.6,330.9L288.3,325.9L288.9,323.9L289.8,322.5L290.8,321.5L291.8,320.9L294.0,319.9L294.2,319.8L294.8,319.0L302.2,302.3L304.2,298.9L305.8,297.0L306.8,296.0L308.2,295.1L309.8,294.5L311.2,294.1L313.2,293.7L314.8,293.7L315.8,293.8L316.8,294.4L317.3,294.9L317.8,295.9L318.2,297.2L318.5,298.4L318.6,300.9L318.5,305.9L318.8,309.4L318.8,310.9L318.5,312.4L317.5,315.4L317.1,316.9L316.6,324.9L316.2,328.9L316.2,329.9L316.4,330.4L317.7,332.9L318.1,334.4L318.0,335.9L317.5,337.4L317.8,337.7L318.2,337.8L322.8,337.8L326.8,338.1L336.8,339.7L341.2,340.6L343.5,341.4L344.3,341.9L344.7,342.4L344.9,342.9L344.9,343.4L344.5,344.4L342.9,345.9L338.4,348.9L338.0,349.4L338.0,349.9L339.2,350.5L346.2,351.6L347.8,352.0L349.2,352.7L350.4,353.4L350.7,353.9L350.9,354.4L350.8,355.4L350.3,356.4L348.9,357.9L346.3,359.9L342.8,362.1L337.2,365.3L333.8,367.1L322.8,372.1L318.2,374.0L312.1,376.4L311.3,376.9L310.5,377.9L309.9,378.4L308.8,378.9L305.1,379.9L301.2,380.7L285.2,383.2L272.2,384.9L269.2,385.4L253.8,388.4L251.9,388.9L248.8,390.0ZM340.8,338.0L339.2,338.1L337.8,338.1L334.8,337.6L332.2,336.6L328.8,334.9L324.2,333.2L322.7,332.4L321.5,331.4L320.9,330.4L320.8,329.9L321.1,328.9L321.8,327.9L322.8,327.0L327.1,323.4L329.2,322.1L331.2,321.4L332.8,321.1L334.8,320.8L343.2,320.5L346.2,320.7L347.6,320.9L348.8,321.4L349.7,321.9L350.2,322.4L350.6,322.9L351.1,323.9L351.5,327.4L352.6,330.9L352.6,331.9L352.3,332.9L351.8,333.8L351.0,334.4L348.8,335.6L344.2,337.2L340.8,338.0ZM348.2,409.0L346.2,409.3L344.2,409.4L342.2,409.3L340.2,409.0L337.8,408.4L331.0,406.4L322.2,404.7L319.9,403.9L318.2,403.2L317.0,402.4L316.0,401.4L315.3,400.4L314.9,398.9L314.9,397.4L315.2,395.9L315.9,393.4L316.5,391.9L317.1,390.9L317.9,389.9L319.9,388.4L322.2,387.3L325.8,386.3L332.6,384.9L340.2,383.1L343.8,382.5L346.2,382.4L348.2,382.5L350.2,383.0L352.2,383.8L353.9,384.9L355.2,386.3L360.5,393.4L361.2,394.4L361.6,395.4L361.9,396.4L361.9,397.4L361.4,398.9L360.5,400.4L358.8,402.3L355.8,405.0L353.9,406.4L352.2,407.5L350.2,408.5L348.2,409.0ZM277.8,421.0L275.2,421.4L273.2,421.3L271.8,420.8L270.8,419.9L270.3,418.9L270.1,417.9L269.7,411.4L269.9,410.4L270.3,409.4L270.9,408.4L271.8,407.4L274.2,405.2L279.8,401.3L282.2,399.7L285.2,398.3L287.2,397.6L289.2,397.3L290.2,397.3L292.8,397.6L296.9,398.9L298.9,399.4L303.8,400.4L305.3,400.9L306.1,401.4L306.6,401.9L307.0,402.9L306.9,403.9L306.6,404.9L305.7,406.4L304.2,408.4L302.1,410.9L300.6,412.4L298.6,413.9L296.2,415.3L293.2,416.5L286.4,418.4L279.8,420.5L277.8,421.0Z"/>
<path fill="#d2e8a0" fill-rule="evenodd" d="M249.8,388.0L246.8,388.3L243.8,388.4L241.2,388.4L238.8,388.1L238.6,380.4L238.6,375.9L238.8,374.6L240.0,371.4L240.6,370.4L241.5,369.4L243.7,367.4L246.8,365.4L252.4,362.4L252.8,361.9L252.1,361.9L250.2,362.3L244.8,363.5L243.2,363.7L241.9,363.4L241.5,362.9L241.4,361.9L242.2,359.9L243.4,357.9L244.7,356.4L246.4,354.9L248.6,353.4L251.1,351.9L260.2,347.2L269.9,341.9L273.3,340.4L274.8,339.9L276.8,339.5L277.8,339.4L278.8,339.5L279.7,339.9L280.2,340.4L281.2,341.4L281.7,341.9L281.8,342.4L281.6,343.4L280.6,344.9L279.1,346.4L271.7,352.9L268.1,355.9L267.6,356.4L267.8,356.6L268.8,356.5L270.2,356.1L279.9,352.9L285.0,351.4L295.1,348.9L295.8,348.5L295.6,347.9L294.7,346.4L294.6,345.9L294.6,344.9L294.4,344.4L293.7,343.9L290.5,342.4L289.0,341.4L288.2,340.7L287.7,339.9L287.0,338.4L286.9,337.4L287.0,335.9L288.4,330.9L289.0,326.4L289.4,324.9L290.1,323.4L291.0,322.4L292.2,321.6L294.2,320.7L294.8,320.2L298.3,312.4L302.2,303.5L304.2,299.9L305.8,298.1L306.8,297.2L307.8,296.5L309.2,295.8L310.8,295.4L312.8,295.0L314.2,294.9L315.2,295.0L316.2,295.6L316.8,296.1L317.3,296.9L317.8,298.4L317.9,299.4L318.1,301.9L318.0,305.9L318.3,309.9L318.0,312.4L316.9,315.4L316.7,316.4L316.1,324.9L315.6,329.9L315.8,330.9L316.9,333.4L317.1,334.9L316.8,336.4L315.8,337.9L315.6,338.4L316.2,338.6L321.8,338.4L326.2,338.8L338.2,340.6L340.8,341.3L342.3,341.9L343.0,342.4L343.3,342.9L343.4,343.4L343.3,343.9L343.0,344.4L342.6,344.9L341.5,345.9L337.0,348.9L335.9,349.9L335.8,350.4L336.2,350.9L336.8,351.1L343.8,352.4L345.5,352.9L346.6,353.4L347.3,353.9L347.7,354.4L347.9,354.9L347.9,355.9L347.4,356.9L346.0,358.4L344.0,359.9L341.7,361.4L338.2,363.4L331.4,366.9L322.0,371.4L317.4,373.4L309.8,376.4L309.1,376.9L308.4,377.9L307.8,378.4L306.7,378.9L302.9,379.9L297.1,380.9L282.8,383.1L268.2,384.9L256.2,387.0L249.8,388.0ZM340.2,337.5L337.8,337.6L335.2,337.1L333.4,336.4L329.0,334.4L324.8,332.9L323.1,331.9L322.1,330.9L321.8,329.9L322.0,328.9L322.7,327.9L323.2,327.4L327.8,323.7L329.8,322.5L331.8,321.8L333.3,321.4L335.2,321.2L343.2,320.9L346.2,321.2L347.3,321.4L348.2,321.8L349.2,322.4L349.7,322.9L350.0,323.4L350.4,324.4L350.8,327.4L351.8,330.9L351.8,331.9L351.4,332.9L350.8,333.8L349.8,334.4L347.8,335.4L343.2,336.9L340.2,337.5ZM347.2,408.5L345.8,408.7L343.8,408.8L340.2,408.4L338.2,407.9L331.2,405.9L322.8,404.2L320.8,403.5L319.2,402.9L317.8,401.9L316.9,400.9L316.3,399.9L316.1,398.9L316.1,397.4L316.3,395.9L317.1,393.4L317.8,391.9L318.9,390.4L319.9,389.4L321.5,388.4L323.2,387.7L325.8,386.9L333.8,385.3L339.8,383.8L343.8,383.1L346.8,383.1L349.2,383.5L350.6,383.9L351.8,384.5L353.2,385.5L354.7,386.9L359.4,393.4L360.1,394.4L360.5,395.4L360.8,396.4L360.8,397.4L360.3,398.9L359.3,400.4L357.3,402.4L354.5,404.9L352.5,406.4L350.8,407.4L349.2,408.0L347.2,408.5ZM277.8,420.5L275.8,420.8L273.8,420.7L272.8,420.4L272.2,420.2L271.5,419.4L271.0,418.4L270.9,417.4L270.8,414.9L270.4,411.9L270.5,410.9L270.8,409.9L271.3,408.9L272.0,407.9L273.0,406.9L275.4,404.9L280.4,401.4L282.9,399.9L285.2,398.9L287.8,398.2L290.2,398.0L292.8,398.3L297.2,399.7L303.2,400.9L304.8,401.5L305.4,401.9L305.8,402.4L306.1,403.4L305.9,404.4L305.5,405.4L304.6,406.9L302.7,409.4L300.9,411.4L299.2,412.9L297.8,413.9L295.8,415.1L292.8,416.2L285.8,418.2L280.2,419.9L277.8,420.5Z"/>
<path fill="#e4f0a2" fill-rule="evenodd" d="M249.8,387.0L245.8,387.2L242.8,387.1L240.8,386.8L239.4,386.4L238.8,386.2L238.6,379.4L238.8,375.7L239.8,375.4L241.0,374.9L241.4,374.4L242.0,372.4L242.7,370.9L243.8,369.4L245.4,367.9L248.3,365.9L252.1,363.9L256.8,361.9L262.2,359.8L273.4,355.9L281.2,353.4L288.3,351.4L296.8,349.6L297.2,349.4L297.7,348.9L297.6,348.4L296.8,347.4L296.2,346.4L296.1,345.9L296.3,344.4L295.8,343.9L292.2,342.4L290.2,341.3L288.9,339.9L288.1,338.4L287.9,337.4L287.9,335.9L289.2,330.9L289.8,326.9L290.1,325.4L290.8,324.2L291.8,323.1L292.8,322.4L294.2,321.7L295.0,320.9L298.4,313.4L302.2,304.7L303.8,301.9L305.2,299.8L306.2,298.7L307.2,297.9L308.2,297.4L309.8,296.8L312.2,296.3L313.8,296.1L314.8,296.3L315.8,296.8L316.2,297.3L316.8,298.2L317.2,299.4L317.3,300.4L317.5,302.4L317.5,305.9L317.8,308.9L317.8,310.4L317.5,312.4L316.4,315.4L316.2,316.4L315.6,325.4L315.0,329.9L315.1,331.4L315.7,332.9L316.0,333.9L316.0,335.4L315.8,336.1L315.3,336.9L314.4,337.9L313.2,338.9L312.9,339.4L313.8,339.5L319.8,338.9L321.8,339.0L324.2,339.1L336.4,340.9L338.8,341.5L340.1,341.9L340.8,342.3L341.5,342.9L341.7,343.4L341.7,343.9L341.1,344.9L340.0,345.9L336.2,348.4L334.9,349.4L334.0,350.4L334.0,350.9L334.3,351.4L335.2,352.0L341.7,353.4L343.0,353.9L343.8,354.4L344.4,354.9L344.7,355.4L344.8,355.9L344.7,356.4L344.2,357.4L343.4,358.4L341.5,359.9L339.3,361.4L335.8,363.4L328.0,367.4L319.7,371.4L315.0,373.4L307.8,376.2L306.7,376.9L306.1,377.9L305.5,378.4L304.4,378.9L302.8,379.4L297.7,380.4L284.6,382.4L277.1,383.4L267.1,384.4L254.8,386.4L249.8,387.0ZM339.8,337.0L337.2,337.0L334.9,336.4L329.8,334.2L325.2,332.4L324.2,331.9L323.2,330.9L322.8,329.9L323.0,328.9L323.3,328.4L324.2,327.4L328.5,323.9L330.1,322.9L332.2,322.2L333.8,321.9L335.8,321.7L343.2,321.4L345.8,321.7L346.8,321.9L347.9,322.4L348.6,322.9L349.1,323.4L349.6,324.4L350.1,327.9L351.0,330.9L350.9,331.9L350.8,332.5L350.2,333.2L349.4,333.9L347.4,334.9L342.8,336.4L339.8,337.0ZM249.8,360.5L247.8,360.8L246.8,360.5L246.5,359.9L246.8,358.8L247.7,356.9L248.9,355.4L250.7,353.9L253.0,352.4L261.2,348.1L267.0,344.9L269.0,343.9L271.6,342.9L273.2,342.6L274.2,342.6L274.8,342.7L275.8,343.3L276.8,344.4L276.9,344.9L276.8,345.4L276.1,346.4L275.2,347.4L268.4,353.4L266.4,354.9L264.8,355.9L262.9,356.9L260.2,358.0L249.8,360.5ZM346.2,408.0L343.2,408.1L341.8,407.9L339.8,407.6L331.8,405.4L323.8,403.8L321.8,403.1L320.2,402.4L319.2,401.9L318.2,400.9L317.6,399.9L317.3,398.4L317.4,396.9L317.7,395.4L318.4,393.4L319.1,391.9L320.2,390.4L321.5,389.4L323.2,388.5L324.6,387.9L326.3,387.4L333.2,386.0L339.8,384.4L343.2,383.9L346.2,383.8L347.8,384.0L349.2,384.3L351.2,385.2L352.3,385.9L353.8,387.4L358.6,393.9L359.2,394.9L359.5,395.9L359.6,397.4L359.1,398.9L358.0,400.4L356.0,402.4L353.1,404.9L351.7,405.9L349.8,406.9L348.2,407.5L346.2,408.0ZM278.2,420.0L275.8,420.2L274.2,420.1L273.2,419.7L272.8,419.4L272.3,418.9L272.0,418.4L271.7,417.4L271.6,414.4L271.3,411.9L271.3,410.9L271.8,409.4L272.4,408.4L273.3,407.4L276.3,404.9L280.5,401.9L283.0,400.4L285.2,399.4L287.8,398.7L290.2,398.5L292.2,398.8L296.8,400.2L302.8,401.4L304.0,401.9L304.8,402.7L305.1,403.4L305.0,404.4L304.7,405.4L303.8,406.9L302.3,408.9L300.5,410.9L298.9,412.4L297.6,413.4L294.9,414.9L292.2,415.9L286.2,417.6L280.4,419.4L278.2,420.0Z"/>
<path fill="#f0f6b2" fill-rule="evenodd" d="M253.2,385.5L249.2,385.7L245.8,385.6L244.5,385.4L243.2,385.1L241.8,384.4L241.3,383.9L240.5,382.4L238.8,381.9L238.8,376.4L242.8,375.5L244.2,374.9L244.6,374.4L245.2,372.4L245.9,370.9L246.9,369.4L247.9,368.4L249.8,366.9L251.3,365.9L253.2,364.9L256.3,363.4L259.9,361.9L265.2,359.9L280.0,354.9L288.8,352.4L293.1,351.4L298.4,350.4L299.8,349.9L300.1,349.4L300.0,348.9L298.7,347.4L298.1,346.4L298.0,345.9L298.2,344.4L298.0,343.9L297.2,343.3L292.8,341.4L291.2,340.5L290.0,339.4L289.2,338.1L289.0,336.9L289.1,335.4L290.3,330.9L290.8,327.6L291.0,326.4L291.4,325.4L292.1,324.4L292.8,323.8L294.8,322.5L295.5,321.4L302.8,305.2L304.2,302.5L305.2,301.1L306.2,300.1L307.2,299.3L308.2,298.7L309.2,298.3L311.2,297.8L312.8,297.6L313.8,297.6L314.8,298.0L315.2,298.3L315.8,298.9L316.2,299.9L316.5,300.9L316.8,302.4L316.9,305.9L317.4,309.9L317.1,311.9L316.8,313.3L315.9,315.4L315.5,317.4L315.0,325.4L314.3,330.9L314.3,331.9L314.7,333.9L314.7,334.9L314.4,335.9L313.8,336.9L312.7,337.9L310.9,339.4L310.0,340.4L310.2,340.8L310.8,340.8L317.2,339.8L320.2,339.7L322.8,339.8L324.7,339.9L334.6,341.4L336.8,341.9L338.2,342.5L339.0,342.9L339.5,343.4L339.6,343.9L339.5,344.4L339.2,344.9L338.2,345.9L334.4,348.4L333.1,349.4L332.3,350.4L332.2,350.9L332.3,351.4L332.6,351.9L333.8,352.8L338.3,354.4L339.4,354.9L340.1,355.4L340.5,355.9L340.7,356.4L340.7,356.9L340.3,357.9L339.5,358.9L337.7,360.4L335.4,361.9L331.9,363.9L325.0,367.4L317.8,370.9L313.1,372.9L305.2,375.9L304.3,376.4L303.7,376.9L303.0,377.9L302.4,378.4L301.3,378.9L299.5,379.4L297.1,379.9L280.9,382.4L272.3,383.4L262.8,384.2L253.2,385.5ZM341.8,336.0L339.8,336.3L337.8,336.4L335.8,336.0L334.0,335.4L330.2,333.7L326.8,332.4L325.0,331.4L324.5,330.9L324.1,330.4L324.0,329.9L324.2,328.9L324.8,328.1L325.4,327.4L329.1,324.4L330.7,323.4L331.9,322.9L334.8,322.4L341.2,322.0L344.2,322.1L346.2,322.6L347.1,322.9L347.8,323.4L348.2,324.0L348.7,324.9L349.1,327.9L349.9,330.4L350.0,331.4L349.8,331.9L349.2,332.9L347.8,333.9L345.4,334.9L341.8,336.0ZM346.2,407.0L343.2,407.2L340.2,406.9L338.4,406.4L332.2,404.7L325.8,403.4L323.8,402.9L321.5,401.9L320.7,401.4L319.7,400.4L319.1,399.4L318.9,398.4L318.9,396.9L319.2,395.5L319.8,393.9L320.4,392.4L321.1,391.4L322.1,390.4L323.5,389.4L324.8,388.9L327.8,387.9L334.2,386.6L339.0,385.4L342.2,384.8L345.2,384.7L347.8,385.0L349.2,385.4L350.3,385.9L351.7,386.9L352.6,387.9L357.0,393.9L357.6,394.9L358.0,395.9L358.1,397.4L357.8,398.5L356.8,399.9L354.8,401.9L352.5,403.9L351.2,404.9L349.5,405.9L348.2,406.5L346.2,407.0ZM277.2,419.5L275.8,419.5L274.8,419.3L273.8,418.8L273.0,417.9L272.7,416.4L272.6,413.9L272.3,411.9L272.4,410.4L272.8,409.4L273.2,408.7L274.8,406.9L277.3,404.9L281.7,401.9L283.4,400.9L285.8,399.9L287.8,399.4L290.2,399.2L291.8,399.4L296.2,400.8L301.8,401.9L303.0,402.4L303.5,402.9L303.8,403.3L303.9,403.9L303.8,404.9L303.4,405.9L302.8,407.0L301.2,409.0L299.5,410.9L297.9,412.4L296.5,413.4L294.6,414.4L292.0,415.4L285.8,417.2L280.1,418.9L277.2,419.5Z"/>
<path fill="#fefcc6" fill-rule="evenodd" d="M267.2,383.0L257.8,383.4L253.8,383.4L250.8,383.1L247.8,382.6L239.4,380.4L238.8,380.1L238.8,379.1L239.8,378.4L243.2,376.9L249.5,374.9L250.4,374.4L250.7,373.9L252.0,370.4L252.6,369.4L253.5,368.4L254.7,367.4L256.1,366.4L257.9,365.4L261.0,363.9L273.8,358.8L279.2,356.7L287.8,354.2L300.5,350.9L302.1,350.4L303.2,349.9L303.7,349.4L303.6,348.9L301.1,346.4L300.8,345.6L300.3,343.9L299.5,342.9L298.2,341.9L297.2,341.3L294.4,339.9L293.2,339.3L292.2,338.4L291.5,337.4L291.2,336.4L291.2,335.1L292.1,331.9L292.7,327.9L293.3,326.4L295.2,323.8L296.1,322.4L302.8,307.3L303.8,305.3L304.8,303.8L306.7,301.4L307.8,300.5L308.8,299.9L310.2,299.4L311.8,299.1L312.8,299.0L313.8,299.3L314.2,299.6L314.9,300.4L315.7,302.4L316.8,308.9L316.9,310.4L316.8,311.4L316.4,312.9L315.1,315.9L314.8,316.9L314.5,318.9L314.1,325.4L313.4,330.4L313.0,333.9L312.8,334.9L312.3,335.9L311.6,336.9L310.7,337.9L307.4,340.9L306.6,341.9L306.6,342.4L307.2,342.8L308.2,342.8L315.2,341.4L318.2,341.1L320.8,341.0L325.0,341.4L331.5,342.4L333.7,342.9L334.9,343.4L335.5,343.9L335.7,344.4L335.6,344.9L335.3,345.4L334.1,346.4L330.8,348.7L330.1,349.4L330.0,349.9L330.0,350.4L330.5,351.4L331.7,352.9L332.8,353.7L335.0,354.9L336.2,355.9L336.5,356.4L336.6,356.9L336.5,357.9L336.2,358.4L335.3,359.4L333.8,360.7L331.2,362.2L327.8,364.1L323.2,366.3L315.2,369.8L309.9,371.9L302.8,374.6L299.8,376.3L297.2,377.8L296.0,378.4L294.5,378.9L292.4,379.4L286.5,380.4L276.6,381.9L267.2,383.0ZM341.2,335.0L339.2,335.3L337.8,335.3L335.8,335.0L334.3,334.4L331.8,333.2L328.3,331.9L327.3,331.4L326.6,330.9L326.1,330.4L325.9,329.9L325.9,329.4L326.1,328.9L326.4,328.4L327.4,327.4L330.5,324.9L332.2,324.0L333.2,323.7L335.8,323.3L341.2,323.0L343.2,323.1L345.2,323.4L346.1,323.9L346.7,324.4L347.2,325.4L347.5,327.9L348.3,330.4L348.3,331.4L347.6,332.4L346.1,333.4L343.4,334.4L341.2,335.0ZM344.8,405.5L342.8,405.6L340.8,405.4L338.6,404.9L335.2,404.1L331.2,403.7L329.2,403.3L326.2,402.3L323.7,400.9L322.8,400.2L322.1,399.4L321.6,398.4L321.3,397.4L321.3,396.4L321.7,395.4L323.2,392.7L324.3,391.4L325.7,390.4L328.1,389.4L332.8,388.1L337.0,387.4L341.9,386.4L343.8,386.3L345.2,386.4L346.2,386.5L347.8,387.0L349.2,387.8L350.5,388.9L354.2,394.0L354.8,394.9L355.3,395.9L355.3,396.9L355.3,397.4L354.8,398.6L353.8,399.8L351.5,401.9L349.8,403.4L348.2,404.3L347.2,404.8L344.8,405.5ZM280.2,418.0L278.2,418.3L276.8,418.3L275.6,417.9L274.9,417.4L274.6,416.9L274.3,415.9L273.9,410.9L274.3,409.4L275.0,408.4L275.9,407.4L278.3,405.4L281.9,402.9L283.6,401.9L285.8,400.9L287.8,400.4L289.8,400.3L291.2,400.5L294.2,401.4L299.8,402.6L300.8,402.9L301.5,403.4L301.9,403.9L302.0,404.4L301.9,405.4L301.5,406.4L300.8,407.6L299.2,409.5L297.9,410.9L296.8,411.9L295.4,412.9L293.5,413.9L292.3,414.4L280.2,418.0Z"/>
<path fill="#fdf0b0" fill-rule="evenodd" d="M303.8,340.0L302.8,340.2L302.2,340.2L301.5,339.9L300.9,339.4L300.2,338.6L297.8,334.1L296.8,331.9L296.5,330.4L296.4,328.9L296.6,326.9L297.1,325.4L297.8,324.4L300.0,321.4L302.0,316.9L304.2,311.0L305.9,304.9L306.9,302.9L307.8,301.9L308.2,301.4L309.2,300.9L311.2,300.3L312.8,300.2L313.2,300.4L313.9,300.9L314.5,301.9L314.8,302.9L316.2,308.5L316.4,310.4L316.2,311.9L315.8,313.2L315.2,314.3L313.3,317.4L312.2,319.4L311.5,321.4L310.9,326.9L310.8,331.4L310.7,332.4L310.2,333.7L309.2,335.4L308.2,336.5L305.3,338.9L303.8,340.0ZM271.8,374.0L269.2,374.2L266.2,374.2L264.2,374.0L262.2,373.7L261.2,373.4L260.4,372.9L260.0,372.4L259.9,371.9L259.9,371.4L260.1,370.9L260.8,369.9L263.2,367.6L269.0,362.9L272.2,360.8L275.2,359.2L278.8,357.8L283.2,356.3L288.8,354.7L309.2,349.2L315.2,348.2L318.8,347.9L320.8,348.0L323.2,348.2L324.8,348.7L325.8,349.2L328.8,351.7L330.8,353.9L333.2,355.4L333.8,355.9L334.2,356.4L334.4,356.9L334.4,357.4L334.3,357.9L334.0,358.4L333.2,359.4L331.2,360.9L327.2,363.2L323.2,365.2L317.2,367.7L313.2,369.2L308.2,370.7L304.8,371.6L301.8,372.1L297.2,372.7L291.8,373.0L280.8,373.4L271.8,374.0ZM341.8,403.0L332.2,403.2L330.8,403.0L328.8,402.5L327.5,401.9L326.2,401.1L323.8,398.9L323.0,397.9L322.8,397.4L322.7,396.4L322.8,395.9L323.5,394.9L324.2,394.3L327.3,392.4L330.8,389.9L332.2,389.1L334.2,388.6L336.2,388.6L337.8,388.8L340.8,389.8L344.2,391.2L345.8,392.1L346.7,392.9L347.1,393.4L347.5,394.4L348.1,398.9L348.0,399.9L347.9,400.4L347.6,400.9L346.8,401.8L346.2,402.1L344.8,402.7L341.8,403.0ZM290.2,411.1L288.8,411.1L285.8,410.7L284.8,410.4L283.9,409.9L283.7,409.4L283.8,408.9L284.5,407.9L287.1,404.9L287.8,404.3L288.8,403.7L290.2,403.2L293.2,402.8L294.8,402.9L295.8,403.3L296.2,403.9L297.4,406.4L297.4,406.9L297.3,407.4L296.9,407.9L295.8,408.8L294.2,409.6L291.8,410.7L290.2,411.1Z"/>
<path fill="#fde29a" fill-rule="evenodd" d="M309.2,320.6L308.8,320.8L307.8,320.8L306.2,320.1L305.2,319.4L304.6,318.4L304.3,317.4L304.3,316.4L304.4,314.9L305.4,310.9L306.3,306.4L306.7,304.9L307.2,303.8L308.2,302.6L309.2,301.9L310.8,301.4L312.2,301.2L312.8,301.4L313.2,301.7L313.8,302.4L314.0,302.9L315.6,308.4L315.8,309.4L315.7,310.9L315.2,312.9L314.2,314.7L310.8,319.3L309.8,320.3L309.2,320.6ZM276.8,373.0L270.2,373.3L267.8,373.3L265.8,373.1L264.6,372.9L263.2,372.4L262.6,371.9L262.4,371.4L262.4,370.9L262.8,369.9L264.2,368.4L270.1,363.4L272.1,361.9L273.7,360.9L277.7,358.9L281.7,357.4L286.5,355.9L303.0,351.4L309.8,349.8L313.8,349.2L317.2,348.9L320.2,349.0L322.7,349.4L324.2,350.1L326.9,351.9L327.8,352.7L329.2,354.4L331.5,355.9L332.3,356.9L332.4,357.4L332.4,357.9L332.2,358.4L331.4,359.4L329.5,360.9L327.0,362.4L323.0,364.4L317.1,366.9L313.2,368.4L308.5,369.9L303.2,371.2L297.8,372.0L293.2,372.2L283.8,372.5L276.8,373.0ZM342.2,402.5L332.8,402.8L330.8,402.6L329.2,402.2L328.2,401.7L327.1,400.9L324.7,398.9L323.9,397.9L323.7,397.4L323.5,396.4L323.7,395.9L324.2,395.1L325.0,394.4L328.2,392.5L330.8,390.5L332.2,389.7L333.8,389.2L335.2,389.1L337.2,389.3L339.2,389.8L343.2,391.4L345.1,392.4L346.1,393.4L346.4,393.9L346.8,394.9L347.2,398.9L347.1,399.9L346.9,400.4L346.2,401.3L345.2,401.9L343.8,402.3L342.2,402.5ZM291.2,409.6L289.8,409.8L287.1,409.4L286.1,408.9L286.0,408.4L286.3,407.9L288.2,405.7L289.2,404.8L290.2,404.4L292.2,404.0L293.2,404.0L294.2,404.2L294.5,404.4L295.4,406.4L295.5,406.9L295.3,407.4L294.8,407.9L294.0,408.4L291.2,409.6Z"/>
<path fill="#fdc97e" fill-rule="evenodd" d="M309.8,319.0L308.8,319.4L308.2,319.4L307.2,319.1L306.1,318.4L305.6,317.9L305.2,317.2L305.1,315.9L305.1,314.9L306.1,310.9L306.8,307.3L307.2,305.6L307.6,304.9L308.2,303.9L309.2,303.2L310.2,302.8L311.8,302.5L312.2,302.6L312.8,302.9L313.2,303.4L313.4,303.9L314.9,308.9L315.0,309.9L315.0,310.9L314.6,312.4L313.9,313.9L310.8,318.0L309.8,319.0ZM273.8,372.5L269.1,372.4L266.3,371.9L265.4,371.4L265.0,370.9L265.0,370.4L265.1,369.9L265.7,368.9L266.7,367.9L272.1,363.4L274.8,361.4L277.5,359.9L281.0,358.4L283.8,357.4L299.8,352.9L305.6,351.4L311.2,350.3L315.8,349.8L319.3,349.9L320.8,350.3L321.8,350.6L325.2,352.5L326.3,353.4L327.4,354.9L329.3,356.4L329.7,356.9L330.0,357.4L330.1,357.9L330.0,358.4L329.7,358.9L328.8,359.9L326.7,361.4L324.2,362.9L321.1,364.4L315.0,366.9L310.9,368.4L307.6,369.4L303.2,370.5L300.4,370.9L297.2,371.3L293.8,371.5L284.8,371.7L273.8,372.5ZM342.8,402.0L333.2,402.4L331.8,402.3L330.1,401.9L328.9,401.4L328.1,400.9L326.7,399.9L325.2,398.6L324.8,397.9L324.3,396.9L324.3,396.4L324.5,395.9L325.2,395.0L325.9,394.4L328.8,392.7L331.2,390.8L332.8,390.0L334.2,389.6L335.8,389.6L337.2,389.8L338.8,390.2L342.0,391.4L344.1,392.4L345.3,393.4L345.9,394.4L346.5,398.4L346.5,399.4L346.3,399.9L346.1,400.4L345.2,401.2L344.2,401.7L342.8,402.0ZM291.8,408.0L290.8,408.4L290.2,408.4L289.2,408.2L288.6,407.9L288.7,407.4L290.1,405.9L291.2,405.6L292.2,405.5L292.8,405.8L293.2,406.9L292.9,407.4L291.8,408.0Z"/>
<path fill="#fdb673" fill-rule="evenodd" d="M308.8,317.5L307.4,316.9L306.8,316.5L306.4,315.9L306.2,315.3L306.3,313.9L307.6,307.9L308.1,306.4L308.8,305.4L309.2,305.1L310.2,304.7L311.2,304.5L311.8,304.6L312.2,304.9L312.8,305.9L313.8,309.4L313.9,310.4L313.8,311.4L313.2,312.9L310.8,316.2L309.8,317.2L309.2,317.4L308.8,317.5ZM282.2,371.0L275.2,371.4L271.8,371.3L270.0,370.9L269.2,370.6L269.0,370.4L268.7,369.9L268.6,369.4L269.1,368.4L270.0,367.4L274.7,363.4L277.5,361.4L280.2,359.9L283.9,358.4L288.7,356.9L299.2,353.9L307.7,351.9L311.8,351.3L315.2,351.1L318.2,351.4L320.8,352.1L323.0,352.9L324.2,353.8L324.7,354.4L325.4,355.9L326.5,357.4L326.8,357.9L326.8,358.4L326.7,358.9L325.9,359.9L324.2,361.4L321.9,362.9L319.8,363.9L317.4,364.9L310.6,367.4L307.5,368.4L303.4,369.4L298.2,370.2L295.2,370.4L287.2,370.6L282.2,371.0ZM342.8,401.5L341.2,401.7L337.2,401.7L333.8,401.9L332.2,401.9L330.8,401.6L329.8,401.2L328.8,400.7L326.6,398.9L325.8,398.0L325.4,397.4L325.2,396.9L325.2,396.4L325.4,395.9L325.7,395.4L326.2,394.9L329.2,393.1L331.3,391.4L332.8,390.6L333.8,390.3L335.2,390.1L336.2,390.1L337.8,390.4L340.6,391.4L342.9,392.4L344.4,393.4L345.1,394.4L345.3,395.4L345.7,398.4L345.6,399.4L345.2,400.2L344.8,400.7L343.8,401.2L342.8,401.5Z"/>
<path fill="#f99d64" fill-rule="evenodd" d="M287.2,368.5L282.2,368.8L279.2,368.7L277.8,368.4L277.1,367.9L277.0,367.4L277.1,366.9L277.5,366.4L278.5,365.4L282.6,361.9L284.9,360.4L287.1,359.4L289.7,358.4L296.7,355.9L299.8,355.0L303.2,354.2L306.8,353.7L311.2,353.2L314.8,353.1L317.8,353.2L319.8,353.5L321.2,354.0L321.9,354.4L322.3,354.9L322.5,355.9L322.3,358.9L321.9,360.4L321.2,361.4L320.6,361.9L319.0,362.9L317.2,363.7L314.2,364.7L309.2,366.2L305.8,367.0L303.2,367.5L298.2,368.1L290.8,368.3L287.2,368.5ZM342.2,401.0L340.8,401.1L333.8,401.4L332.2,401.3L331.2,401.1L329.8,400.4L327.8,398.9L326.8,397.9L326.5,397.4L326.3,396.9L326.3,396.4L326.8,395.5L327.4,394.9L329.9,393.4L331.8,391.9L332.8,391.3L333.8,390.9L334.8,390.8L335.8,390.7L337.3,390.9L340.2,391.9L342.5,392.9L343.2,393.5L344.1,394.4L344.4,395.4L344.7,397.9L344.7,398.9L344.6,399.4L344.3,399.9L343.7,400.4L342.2,401.0Z"/>
<path fill="#f3845a" fill-rule="evenodd" d="M303.8,365.5L301.8,365.5L299.8,365.2L295.4,363.9L291.8,363.1L290.4,362.4L290.0,361.9L290.0,361.4L290.4,360.9L291.0,360.4L293.9,358.9L299.8,356.5L303.2,355.6L305.8,355.3L309.5,354.9L315.2,354.7L317.8,355.0L318.7,355.4L319.1,355.9L319.2,356.4L319.1,356.9L318.6,358.4L318.4,360.4L317.7,361.4L317.0,361.9L314.9,362.9L311.6,363.9L307.2,365.0L303.8,365.5ZM340.2,400.5L333.8,400.7L331.8,400.4L330.2,399.6L328.8,398.4L327.9,397.4L327.7,396.9L327.7,396.4L327.9,395.9L328.3,395.4L330.8,393.9L332.6,392.4L333.5,391.9L334.8,391.6L335.8,391.6L337.8,391.9L340.4,392.9L341.8,393.6L342.7,394.4L343.2,395.4L343.5,397.9L343.5,398.4L343.2,399.2L342.8,399.7L342.2,400.0L341.2,400.3L340.2,400.5Z"/>
<path fill="#ea6c4c" fill-rule="evenodd" d="M304.8,363.0L303.2,363.0L302.2,362.8L297.8,361.5L297.3,360.9L297.5,360.4L299.3,359.4L302.2,358.2L304.2,357.6L306.2,357.4L310.8,357.1L312.2,357.2L313.1,357.4L313.2,357.6L313.4,357.9L312.9,359.4L312.8,360.4L312.2,361.0L311.4,361.4L310.0,361.9L306.8,362.7L304.8,363.0ZM335.8,399.5L333.8,399.5L332.2,398.9L330.9,397.9L330.2,397.2L330.1,396.9L330.0,396.4L330.3,395.9L333.8,393.5L335.2,393.0L336.2,393.0L337.9,393.4L340.2,394.4L340.8,394.9L341.1,395.4L341.2,395.9L341.4,397.9L341.2,398.4L340.8,398.9L339.2,399.3L335.8,399.5Z"/>
<path fill="none" stroke="#6a6a5a" stroke-opacity="0.55" stroke-width="0.45" d="M249.8,387.0L245.8,387.2L242.8,387.1L240.8,386.8L239.4,386.4L238.8,386.2L238.6,379.4L238.8,375.7L239.8,375.4L241.0,374.9L241.4,374.4L242.0,372.4L242.7,370.9L243.8,369.4L245.4,367.9L248.3,365.9L252.1,363.9L256.8,361.9L262.2,359.8L273.4,355.9L281.2,353.4L288.3,351.4L296.8,349.6L297.2,349.4L297.7,348.9L297.6,348.4L296.8,347.4L296.2,346.4L296.1,345.9L296.3,344.4L295.8,343.9L292.2,342.4L290.2,341.3L288.9,339.9L288.1,338.4L287.9,337.4L287.9,335.9L289.2,330.9L289.8,326.9L290.1,325.4L290.8,324.2L291.8,323.1L292.8,322.4L294.2,321.7L295.0,320.9L298.4,313.4L302.2,304.7L303.8,301.9L305.2,299.8L306.2,298.7L307.2,297.9L308.2,297.4L309.8,296.8L312.2,296.3L313.8,296.1L314.8,296.3L315.8,296.8L316.2,297.3L316.8,298.2L317.2,299.4L317.3,300.4L317.5,302.4L317.5,305.9L317.8,308.9L317.8,310.4L317.5,312.4L316.4,315.4L316.2,316.4L315.6,325.4L315.0,329.9L315.1,331.4L315.7,332.9L316.0,333.9L316.0,335.4L315.8,336.1L315.3,336.9L314.4,337.9L313.2,338.9L312.9,339.4L313.8,339.5L319.8,338.9L321.8,339.0L324.2,339.1L336.4,340.9L338.8,341.5L340.1,341.9L340.8,342.3L341.5,342.9L341.7,343.4L341.7,343.9L341.1,344.9L340.0,345.9L336.2,348.4L334.9,349.4L334.0,350.4L334.0,350.9L334.3,351.4L335.2,352.0L341.7,353.4L343.0,353.9L343.8,354.4L344.4,354.9L344.7,355.4L344.8,355.9L344.7,356.4L344.2,357.4L343.4,358.4L341.5,359.9L339.3,361.4L335.8,363.4L328.0,367.4L319.7,371.4L315.0,373.4L307.8,376.2L306.7,376.9L306.1,377.9L305.5,378.4L304.4,378.9L302.8,379.4L297.7,380.4L284.6,382.4L277.1,383.4L267.1,384.4L254.8,386.4L249.8,387.0ZM339.8,337.0L337.2,337.0L334.9,336.4L329.8,334.2L325.2,332.4L324.2,331.9L323.2,330.9L322.8,329.9L323.0,328.9L323.3,328.4L324.2,327.4L328.5,323.9L330.1,322.9L332.2,322.2L333.8,321.9L335.8,321.7L343.2,321.4L345.8,321.7L346.8,321.9L347.9,322.4L348.6,322.9L349.1,323.4L349.6,324.4L350.1,327.9L351.0,330.9L350.9,331.9L350.8,332.5L350.2,333.2L349.4,333.9L347.4,334.9L342.8,336.4L339.8,337.0ZM249.8,360.5L247.8,360.8L246.8,360.5L246.5,359.9L246.8,358.8L247.7,356.9L248.9,355.4L250.7,353.9L253.0,352.4L261.2,348.1L267.0,344.9L269.0,343.9L271.6,342.9L273.2,342.6L274.2,342.6L274.8,342.7L275.8,343.3L276.8,344.4L276.9,344.9L276.8,345.4L276.1,346.4L275.2,347.4L268.4,353.4L266.4,354.9L264.8,355.9L262.9,356.9L260.2,358.0L249.8,360.5ZM346.2,408.0L343.2,408.1L341.8,407.9L339.8,407.6L331.8,405.4L323.8,403.8L321.8,403.1L320.2,402.4L319.2,401.9L318.2,400.9L317.6,399.9L317.3,398.4L317.4,396.9L317.7,395.4L318.4,393.4L319.1,391.9L320.2,390.4L321.5,389.4L323.2,388.5L324.6,387.9L326.3,387.4L333.2,386.0L339.8,384.4L343.2,383.9L346.2,383.8L347.8,384.0L349.2,384.3L351.2,385.2L352.3,385.9L353.8,387.4L358.6,393.9L359.2,394.9L359.5,395.9L359.6,397.4L359.1,398.9L358.0,400.4L356.0,402.4L353.1,404.9L351.7,405.9L349.8,406.9L348.2,407.5L346.2,408.0ZM278.2,420.0L275.8,420.2L274.2,420.1L273.2,419.7L272.8,419.4L272.3,418.9L272.0,418.4L271.7,417.4L271.6,414.4L271.3,411.9L271.3,410.9L271.8,409.4L272.4,408.4L273.3,407.4L276.3,404.9L280.5,401.9L283.0,400.4L285.2,399.4L287.8,398.7L290.2,398.5L292.2,398.8L296.8,400.2L302.8,401.4L304.0,401.9L304.8,402.7L305.1,403.4L305.0,404.4L304.7,405.4L303.8,406.9L302.3,408.9L300.5,410.9L298.9,412.4L297.6,413.4L294.9,414.9L292.2,415.9L286.2,417.6L280.4,419.4L278.2,420.0Z"/>
<path fill="none" stroke="#6a6a5a" stroke-opacity="0.55" stroke-width="0.45" d="M309.2,320.6L308.8,320.8L307.8,320.8L306.2,320.1L305.2,319.4L304.6,318.4L304.3,317.4L304.3,316.4L304.4,314.9L305.4,310.9L306.3,306.4L306.7,304.9L307.2,303.8L308.2,302.6L309.2,301.9L310.8,301.4L312.2,301.2L312.8,301.4L313.2,301.7L313.8,302.4L314.0,302.9L315.6,308.4L315.8,309.4L315.7,310.9L315.2,312.9L314.2,314.7L310.8,319.3L309.8,320.3L309.2,320.6ZM276.8,373.0L270.2,373.3L267.8,373.3L265.8,373.1L264.6,372.9L263.2,372.4L262.6,371.9L262.4,371.4L262.4,370.9L262.8,369.9L264.2,368.4L270.1,363.4L272.1,361.9L273.7,360.9L277.7,358.9L281.7,357.4L286.5,355.9L303.0,351.4L309.8,349.8L313.8,349.2L317.2,348.9L320.2,349.0L322.7,349.4L324.2,350.1L326.9,351.9L327.8,352.7L329.2,354.4L331.5,355.9L332.3,356.9L332.4,357.4L332.4,357.9L332.2,358.4L331.4,359.4L329.5,360.9L327.0,362.4L323.0,364.4L317.1,366.9L313.2,368.4L308.5,369.9L303.2,371.2L297.8,372.0L293.2,372.2L283.8,372.5L276.8,373.0ZM342.2,402.5L332.8,402.8L330.8,402.6L329.2,402.2L328.2,401.7L327.1,400.9L324.7,398.9L323.9,397.9L323.7,397.4L323.5,396.4L323.7,395.9L324.2,395.1L325.0,394.4L328.2,392.5L330.8,390.5L332.2,389.7L333.8,389.2L335.2,389.1L337.2,389.3L339.2,389.8L343.2,391.4L345.1,392.4L346.1,393.4L346.4,393.9L346.8,394.9L347.2,398.9L347.1,399.9L346.9,400.4L346.2,401.3L345.2,401.9L343.8,402.3L342.2,402.5ZM291.2,409.6L289.8,409.8L287.1,409.4L286.1,408.9L286.0,408.4L286.3,407.9L288.2,405.7L289.2,404.8L290.2,404.4L292.2,404.0L293.2,404.0L294.2,404.2L294.5,404.4L295.4,406.4L295.5,406.9L295.3,407.4L294.8,407.9L294.0,408.4L291.2,409.6Z"/>
<path fill="none" stroke="#6a6a5a" stroke-opacity="0.55" stroke-width="0.45" d="M303.8,365.5L301.8,365.5L299.8,365.2L295.4,363.9L291.8,363.1L290.4,362.4L290.0,361.9L290.0,361.4L290.4,360.9L291.0,360.4L293.9,358.9L299.8,356.5L303.2,355.6L305.8,355.3L309.5,354.9L315.2,354.7L317.8,355.0L318.7,355.4L319.1,355.9L319.2,356.4L319.1,356.9L318.6,358.4L318.4,360.4L317.7,361.4L317.0,361.9L314.9,362.9L311.6,363.9L307.2,365.0L303.8,365.5ZM340.2,400.5L333.8,400.7L331.8,400.4L330.2,399.6L328.8,398.4L327.9,397.4L327.7,396.9L327.7,396.4L327.9,395.9L328.3,395.4L330.8,393.9L332.6,392.4L333.5,391.9L334.8,391.6L335.8,391.6L337.8,391.9L340.4,392.9L341.8,393.6L342.7,394.4L343.2,395.4L343.5,397.9L343.5,398.4L343.2,399.2L342.8,399.7L342.2,400.0L341.2,400.3L340.2,400.5Z"/>
</g>
<path d="M252.80,258.2V428.6M267.10,258.2V428.6M281.40,258.2V428.6M295.70,258.2V428.6M310.00,258.2V428.6M324.30,258.2V428.6M338.60,258.2V428.6M352.90,258.2V428.6M367.20,258.2V428.6M238.5,272.10H380.6M238.5,288.20H380.6M238.5,303.60H380.6M238.5,318.10H380.6M238.5,332.80H380.6M238.5,348.30H380.6M238.5,364.20H380.6M238.5,379.80H380.6M238.5,395.70H380.6M238.5,411.70H380.6M238.5,427.06H380.6" stroke="#eef8fb" stroke-opacity="0.85" stroke-width="1.15" fill="none"/>
<circle cx="295.70" cy="273.00" r="5.2" fill="#fff" stroke="#5a5a5a" stroke-width="0.9"/>
<text x="295.70" y="275.56" font-size="7.1" font-weight="bold" text-anchor="middle" fill="#000" letter-spacing="-0.3">A1</text>
<circle cx="352.90" cy="273.00" r="5.2" fill="#fff" stroke="#5a5a5a" stroke-width="0.9"/>
<text x="352.90" y="275.56" font-size="7.1" font-weight="bold" text-anchor="middle" fill="#000" letter-spacing="-0.3">B1</text>
<circle cx="295.70" cy="303.60" r="5.2" fill="#fff" stroke="#5a5a5a" stroke-width="0.9"/>
<text x="295.70" y="306.16" font-size="7.1" font-weight="bold" text-anchor="middle" fill="#000" letter-spacing="-0.3">A2</text>
<circle cx="352.90" cy="303.60" r="5.2" fill="#fff" stroke="#5a5a5a" stroke-width="0.9"/>
<text x="352.90" y="306.16" font-size="7.1" font-weight="bold" text-anchor="middle" fill="#000" letter-spacing="-0.3">B2</text>
<circle cx="295.70" cy="333.80" r="5.2" fill="#fff" stroke="#5a5a5a" stroke-width="0.9"/>
<text x="295.70" y="336.36" font-size="7.1" font-weight="bold" text-anchor="middle" fill="#000" letter-spacing="-0.3">A3</text>
<circle cx="352.90" cy="333.80" r="5.2" fill="#fff" stroke="#5a5a5a" stroke-width="0.9"/>
<text x="352.90" y="336.36" font-size="7.1" font-weight="bold" text-anchor="middle" fill="#000" letter-spacing="-0.3">B3</text>
<circle cx="295.70" cy="364.80" r="5.2" fill="#fff" stroke="#5a5a5a" stroke-width="0.9"/>
<text x="295.70" y="367.36" font-size="7.1" font-weight="bold" text-anchor="middle" fill="#000" letter-spacing="-0.3">A4</text>
<circle cx="352.90" cy="364.80" r="5.2" fill="#fff" stroke="#5a5a5a" stroke-width="0.9"/>
<text x="352.90" y="367.36" font-size="7.1" font-weight="bold" text-anchor="middle" fill="#000" letter-spacing="-0.3">B4</text>
<circle cx="295.70" cy="395.50" r="5.2" fill="#fff" stroke="#5a5a5a" stroke-width="0.9"/>
<text x="295.70" y="398.06" font-size="7.1" font-weight="bold" text-anchor="middle" fill="#000" letter-spacing="-0.3">A5</text>
<circle cx="352.90" cy="395.50" r="5.2" fill="#fff" stroke="#5a5a5a" stroke-width="0.9"/>
<text x="352.90" y="398.06" font-size="7.1" font-weight="bold" text-anchor="middle" fill="#000" letter-spacing="-0.3">B5</text>
<circle cx="295.70" cy="424.60" r="5.2" fill="#fff" stroke="#5a5a5a" stroke-width="0.9"/>
<text x="295.70" y="427.16" font-size="7.1" font-weight="bold" text-anchor="middle" fill="#000" letter-spacing="-0.3">A6</text>
<circle cx="352.90" cy="424.60" r="5.2" fill="#fff" stroke="#5a5a5a" stroke-width="0.9"/>
<text x="352.90" y="427.16" font-size="7.1" font-weight="bold" text-anchor="middle" fill="#000" letter-spacing="-0.3">B6</text>
<path d="M238.5,258.20h3M238.5,272.10h3M238.5,288.20h3M238.5,303.60h3M238.5,318.10h3M238.5,332.80h3M238.5,348.30h3M238.5,364.20h3M238.5,379.80h3M238.5,395.70h3M238.5,411.70h3M238.5,427.06h3M238.50,428.6v-3M252.80,428.6v-3M267.10,428.6v-3M281.40,428.6v-3M295.70,428.6v-3M310.00,428.6v-3M324.30,428.6v-3M338.60,428.6v-3M352.90,428.6v-3M367.20,428.6v-3" stroke="#222" stroke-width="1" fill="none"/>
<rect x="238.5" y="258.2" width="142.1" height="170.4" fill="none" stroke="#333" stroke-width="1"/>
<text x="235.40" y="262.70" font-size="10.2" font-weight="bold" text-anchor="end" fill="#000" >0</text>
<text x="235.40" y="292.70" font-size="10.2" font-weight="bold" text-anchor="end" fill="#000" >10</text>
<text x="235.40" y="322.60" font-size="10.2" font-weight="bold" text-anchor="end" fill="#000" >20</text>
<text x="235.40" y="352.80" font-size="10.2" font-weight="bold" text-anchor="end" fill="#000" >30</text>
<text x="235.40" y="384.30" font-size="10.2" font-weight="bold" text-anchor="end" fill="#000" >40</text>
<text x="235.40" y="416.20" font-size="10.2" font-weight="bold" text-anchor="end" fill="#000" >50</text>
<text x="238.50" y="439.60" font-size="10.2" font-weight="bold" text-anchor="middle" fill="#000" >0</text>
<text x="295.70" y="439.60" font-size="10.2" font-weight="bold" text-anchor="middle" fill="#000" >20</text>
<text x="352.90" y="439.60" font-size="10.2" font-weight="bold" text-anchor="middle" fill="#000" >40</text>
<text x="313.50" y="454.00" font-size="10.5" font-weight="bold" text-anchor="middle" fill="#000" >Length (cm)</text>
<text transform="translate(216.6,343.6) rotate(-90)" font-size="10.5" font-weight="bold" text-anchor="middle" fill="#000">Depth (cm)</text>
<rect x="387.3" y="418.0" width="17.5" height="10" fill="#4a94bc"/>
<rect x="387.3" y="408.0" width="17.5" height="10" fill="#65b1aa"/>
<rect x="387.3" y="398.0" width="17.5" height="10" fill="#80c4a6"/>
<rect x="387.3" y="388.0" width="17.5" height="10" fill="#9bd2a4"/>
<rect x="387.3" y="378.0" width="17.5" height="10" fill="#b8dea4"/>
<rect x="387.3" y="368.0" width="17.5" height="10" fill="#d2e8a0"/>
<rect x="387.3" y="358.0" width="17.5" height="10" fill="#e4f0a2"/>
<rect x="387.3" y="348.0" width="17.5" height="10" fill="#f0f6b2"/>
<rect x="387.3" y="338.0" width="17.5" height="10" fill="#fefcc6"/>
<rect x="387.3" y="328.0" width="17.5" height="10" fill="#fdf0b0"/>
<rect x="387.3" y="318.0" width="17.5" height="10" fill="#fde29a"/>
<rect x="387.3" y="308.0" width="17.5" height="10" fill="#fdc97e"/>
<rect x="387.3" y="298.0" width="17.5" height="10" fill="#fdb673"/>
<rect x="387.3" y="288.0" width="17.5" height="10" fill="#f99d64"/>
<rect x="387.3" y="278.0" width="17.5" height="10" fill="#f3845a"/>
<rect x="387.3" y="268.0" width="17.5" height="10" fill="#ea6c4c"/>
<rect x="387.3" y="258.0" width="17.5" height="10" fill="#dc5a43"/>
<rect x="387.3" y="258" width="17.5" height="170" fill="none" stroke="#333" stroke-width="1"/>
<path d="M404.8,408.50h-2.8M404.8,388.50h-2.8M404.8,368.50h-2.8M404.8,348.50h-2.8M404.8,328.50h-2.8M404.8,308.50h-2.8M404.8,288.50h-2.8M404.8,268.50h-2.8" stroke="#222" stroke-width="1" fill="none"/>
<text x="408.30" y="433.00" font-size="10.2" font-weight="bold" text-anchor="start" fill="#000" >0</text>
<text x="408.30" y="393.00" font-size="10.2" font-weight="bold" text-anchor="start" fill="#000" >7</text>
<text x="408.30" y="353.00" font-size="10.2" font-weight="bold" text-anchor="start" fill="#000" >14</text>
<text x="408.30" y="313.00" font-size="10.2" font-weight="bold" text-anchor="start" fill="#000" >21</text>
<text x="408.30" y="273.00" font-size="10.2" font-weight="bold" text-anchor="start" fill="#000" >28</text>
<text transform="translate(432.3,343.2) rotate(-90)" font-size="10.5" font-weight="bold" text-anchor="middle" fill="#000">FPOC <tspan font-style="italic">S</tspan><tspan font-size="7" dy="1.2">n</tspan><tspan dy="-1.2"> (%)</tspan></text>
<text x="-0.70" y="248.50" font-size="15" font-weight="bold" text-anchor="start" fill="#000" >b</text>
<defs><linearGradient id="pu" x1="0" y1="0" x2="0" y2="1"><stop offset="0" stop-color="#dfdfd9"/><stop offset="1" stop-color="#d7d7d0"/></linearGradient><linearGradient id="pl" x1="0" y1="0" x2="0" y2="1"><stop offset="0" stop-color="#cfc5b6"/><stop offset="0.3" stop-color="#ccc8bd"/><stop offset="0.85" stop-color="#cdc9bf"/><stop offset="1" stop-color="#c6c2b8"/></linearGradient><filter id="bl1" x="-20%" y="-50%" width="140%" height="200%"><feGaussianBlur stdDeviation="0.6"/></filter><filter id="bl2" x="-20%" y="-50%" width="140%" height="200%"><feGaussianBlur stdDeviation="1.2"/></filter></defs>
<rect x="31.5" y="257.8" width="150.1" height="61.2" fill="url(#pu)"/>
<rect x="31.5" y="319" width="150.1" height="109.6" fill="url(#pl)"/>
<rect x="128" y="300" width="53.6" height="19" fill="#e4e4e1" opacity="0.6" filter="url(#bl2)"/>
<line x1="31.5" y1="319.2" x2="181.6" y2="319.2" stroke="#a8a49c" stroke-width="0.8"/>
<g stroke="#f8f8f4" stroke-linecap="round" opacity="0.85" filter="url(#bl1)"><path d="M59.7,272.7L77.4,281.9" stroke-width="1.6"/><path d="M33,259.2L41.3,263.5" stroke-width="1.6"/><path d="M156.7,273L160.5,282.5" stroke-width="1.5" opacity="0.8"/><path d="M152,258.5L153,261" stroke-width="1.2" opacity="0.7"/></g>
<path d="M78.8,288.4V428M93.6,273.3V428M108.4,288.4V428M138.1,288.4V428M152.9,273.3V428M167.7,288.4V428M35,288.4H181M93.6,273.3H181" stroke="#5a5a5a" stroke-width="0.8" stroke-dasharray="1 1.6" opacity="0.7" fill="none"/>
<g fill="none" stroke="#707070" stroke-width="0.6" opacity="0.7"><circle cx="93.6" cy="272.1" r="1.4"/><circle cx="93.6" cy="303.6" r="1.4"/><circle cx="93.6" cy="332.8" r="1.4"/><circle cx="93.6" cy="364.2" r="1.4"/><circle cx="93.6" cy="395.7" r="1.4"/><circle cx="93.6" cy="427.1" r="1.4"/><circle cx="152.9" cy="272.1" r="1.4"/><circle cx="152.9" cy="303.6" r="1.4"/><circle cx="152.9" cy="332.8" r="1.4"/><circle cx="152.9" cy="364.2" r="1.4"/><circle cx="152.9" cy="395.7" r="1.4"/><circle cx="152.9" cy="427.1" r="1.4"/></g>
<g fill="#e8aa24" filter="url(#bl1)"><ellipse cx="118.3" cy="323.0" rx="1.0" ry="1.0" opacity="0.71"/><ellipse cx="113.2" cy="322.1" rx="1.5" ry="0.7" opacity="0.59"/><ellipse cx="121.2" cy="322.2" rx="1.2" ry="1.0" opacity="0.98"/><ellipse cx="123.8" cy="323.5" rx="1.0" ry="1.2" opacity="0.68"/><ellipse cx="114.5" cy="322.5" rx="2.0" ry="0.8" opacity="0.81"/><ellipse cx="125.1" cy="322.9" rx="1.0" ry="0.7" opacity="0.64"/><ellipse cx="126.0" cy="322.5" rx="1.7" ry="0.9" opacity="0.68"/><ellipse cx="128.7" cy="322.4" rx="1.6" ry="1.0" opacity="0.94"/><ellipse cx="126.8" cy="323.5" rx="1.1" ry="0.9" opacity="0.89"/><ellipse cx="115.1" cy="322.1" rx="1.8" ry="1.1" opacity="0.81"/><ellipse cx="129.9" cy="323.1" rx="1.7" ry="1.0" opacity="0.76"/><ellipse cx="129.9" cy="322.8" rx="1.8" ry="0.7" opacity="0.87"/><ellipse cx="126.0" cy="323.3" rx="1.3" ry="0.9" opacity="0.85"/><ellipse cx="112.4" cy="322.3" rx="1.1" ry="0.7" opacity="0.90"/><ellipse cx="114.4" cy="322.6" rx="2.0" ry="0.7" opacity="0.75"/><ellipse cx="123.8" cy="323.3" rx="2.0" ry="0.8" opacity="0.74"/><ellipse cx="119.9" cy="323.5" rx="1.1" ry="0.8" opacity="0.65"/><ellipse cx="116.8" cy="322.9" rx="1.2" ry="0.7" opacity="0.74"/><ellipse cx="119.7" cy="323.5" rx="1.8" ry="1.0" opacity="0.83"/><ellipse cx="125.5" cy="323.4" rx="1.9" ry="1.2" opacity="0.91"/><ellipse cx="125.0" cy="331.0" rx="0.8" ry="0.8" opacity="0.58"/><ellipse cx="124.7" cy="328.7" rx="0.5" ry="0.8" opacity="0.62"/><ellipse cx="124.9" cy="327.0" rx="0.9" ry="1.3" opacity="0.62"/><ellipse cx="124.9" cy="329.3" rx="0.6" ry="1.5" opacity="1.00"/><ellipse cx="125.1" cy="332.0" rx="0.6" ry="1.1" opacity="0.67"/><ellipse cx="124.7" cy="337.0" rx="1.0" ry="1.2" opacity="0.62"/><ellipse cx="124.5" cy="333.4" rx="1.0" ry="1.5" opacity="0.86"/><ellipse cx="124.9" cy="329.3" rx="0.9" ry="1.2" opacity="0.90"/><ellipse cx="124.8" cy="330.6" rx="1.0" ry="1.5" opacity="0.91"/><ellipse cx="125.4" cy="336.9" rx="0.8" ry="1.1" opacity="0.56"/><ellipse cx="124.8" cy="326.1" rx="0.8" ry="1.6" opacity="0.75"/><ellipse cx="125.7" cy="339.0" rx="0.7" ry="1.0" opacity="0.65"/><ellipse cx="124.7" cy="328.7" rx="1.0" ry="1.5" opacity="0.77"/><ellipse cx="122.9" cy="345.6" rx="1.8" ry="1.3" opacity="0.90"/><ellipse cx="125.1" cy="346.0" rx="1.9" ry="0.9" opacity="0.91"/><ellipse cx="131.1" cy="346.8" rx="2.1" ry="1.2" opacity="0.63"/><ellipse cx="107.7" cy="345.9" rx="1.9" ry="0.8" opacity="0.92"/><ellipse cx="131.6" cy="346.7" rx="1.6" ry="0.8" opacity="0.56"/><ellipse cx="131.4" cy="347.0" rx="2.1" ry="1.0" opacity="0.94"/><ellipse cx="126.9" cy="346.2" rx="1.3" ry="0.9" opacity="0.81"/><ellipse cx="111.6" cy="344.9" rx="2.1" ry="1.0" opacity="0.76"/><ellipse cx="121.1" cy="346.0" rx="2.1" ry="1.1" opacity="0.79"/><ellipse cx="118.4" cy="345.9" rx="1.1" ry="0.8" opacity="0.91"/><ellipse cx="109.3" cy="345.7" rx="1.6" ry="0.9" opacity="0.78"/><ellipse cx="120.2" cy="345.4" rx="1.6" ry="0.9" opacity="0.67"/><ellipse cx="125.8" cy="346.6" rx="1.9" ry="1.3" opacity="0.75"/><ellipse cx="121.4" cy="346.2" rx="1.8" ry="1.0" opacity="0.79"/><ellipse cx="118.2" cy="346.3" rx="2.0" ry="1.3" opacity="0.67"/><ellipse cx="120.5" cy="346.7" rx="1.1" ry="0.8" opacity="0.75"/><ellipse cx="106.3" cy="344.4" rx="1.8" ry="1.2" opacity="0.95"/><ellipse cx="109.1" cy="345.6" rx="1.1" ry="1.3" opacity="0.99"/><ellipse cx="111.2" cy="345.3" rx="1.5" ry="1.3" opacity="0.92"/><ellipse cx="108.9" cy="345.3" rx="1.3" ry="0.9" opacity="0.69"/><ellipse cx="123.8" cy="346.5" rx="1.5" ry="0.8" opacity="0.70"/><ellipse cx="121.7" cy="345.5" rx="2.2" ry="1.2" opacity="0.99"/><ellipse cx="107.2" cy="344.4" rx="1.9" ry="0.9" opacity="0.61"/><ellipse cx="116.7" cy="346.4" rx="1.2" ry="0.8" opacity="0.96"/><ellipse cx="120.5" cy="345.5" rx="1.0" ry="1.2" opacity="0.74"/><ellipse cx="107.1" cy="345.4" rx="1.9" ry="0.8" opacity="0.94"/><ellipse cx="106.9" cy="345.1" rx="1.3" ry="1.1" opacity="0.97"/><ellipse cx="114.7" cy="354.0" rx="1.2" ry="0.7" opacity="0.62"/><ellipse cx="109.8" cy="353.7" rx="1.3" ry="1.1" opacity="0.68"/><ellipse cx="120.1" cy="353.8" rx="0.9" ry="0.8" opacity="0.56"/><ellipse cx="125.9" cy="353.5" rx="1.5" ry="1.2" opacity="0.60"/><ellipse cx="127.8" cy="354.0" rx="2.0" ry="0.9" opacity="0.78"/><ellipse cx="125.4" cy="353.8" rx="2.0" ry="1.1" opacity="0.84"/><ellipse cx="118.1" cy="353.3" rx="1.1" ry="0.7" opacity="0.88"/><ellipse cx="114.5" cy="353.4" rx="2.0" ry="1.2" opacity="0.85"/><ellipse cx="115.2" cy="353.7" rx="1.5" ry="0.8" opacity="0.75"/><ellipse cx="115.6" cy="354.7" rx="1.6" ry="0.8" opacity="0.98"/><ellipse cx="115.9" cy="353.2" rx="1.4" ry="0.9" opacity="0.78"/><ellipse cx="113.6" cy="353.2" rx="1.2" ry="0.7" opacity="0.73"/><ellipse cx="109.4" cy="353.7" rx="1.2" ry="1.0" opacity="0.79"/><ellipse cx="126.5" cy="354.3" rx="2.0" ry="0.9" opacity="0.70"/><ellipse cx="131.2" cy="354.3" rx="1.7" ry="0.7" opacity="0.93"/><ellipse cx="129.7" cy="354.4" rx="2.0" ry="0.8" opacity="0.79"/><ellipse cx="121.0" cy="354.5" rx="2.0" ry="1.0" opacity="0.95"/><ellipse cx="124.9" cy="353.6" rx="0.9" ry="0.8" opacity="0.71"/><ellipse cx="111.8" cy="354.1" rx="1.7" ry="1.0" opacity="0.86"/><ellipse cx="119.7" cy="354.5" rx="1.9" ry="1.0" opacity="0.79"/><ellipse cx="123.6" cy="354.4" rx="1.2" ry="0.7" opacity="0.67"/><ellipse cx="125.4" cy="354.4" rx="2.2" ry="1.0" opacity="0.72"/><ellipse cx="120.2" cy="354.4" rx="1.7" ry="1.0" opacity="0.58"/><ellipse cx="97.8" cy="349.5" rx="1.3" ry="0.8" opacity="0.56"/><ellipse cx="96.0" cy="349.3" rx="1.8" ry="0.9" opacity="0.68"/><ellipse cx="105.8" cy="349.5" rx="1.1" ry="1.0" opacity="0.64"/><ellipse cx="116.1" cy="349.4" rx="1.5" ry="0.9" opacity="0.99"/><ellipse cx="104.2" cy="349.1" rx="2.1" ry="0.7" opacity="0.81"/><ellipse cx="98.0" cy="349.7" rx="1.1" ry="0.9" opacity="0.78"/><ellipse cx="113.9" cy="349.5" rx="2.1" ry="0.8" opacity="0.56"/><ellipse cx="95.1" cy="348.9" rx="1.3" ry="0.6" opacity="0.70"/><ellipse cx="102.0" cy="348.7" rx="1.9" ry="0.9" opacity="0.60"/><ellipse cx="114.7" cy="350.4" rx="1.3" ry="0.7" opacity="0.73"/><ellipse cx="116.1" cy="349.8" rx="1.5" ry="0.7" opacity="0.57"/><ellipse cx="97.5" cy="348.8" rx="2.1" ry="0.7" opacity="0.67"/><ellipse cx="105.4" cy="349.4" rx="2.1" ry="1.0" opacity="0.92"/><ellipse cx="108.7" cy="350.2" rx="1.6" ry="0.9" opacity="0.57"/><ellipse cx="110.3" cy="350.1" rx="1.7" ry="0.7" opacity="0.57"/><ellipse cx="114.0" cy="349.9" rx="1.3" ry="0.7" opacity="0.88"/><ellipse cx="115.2" cy="350.2" rx="1.3" ry="0.8" opacity="0.73"/><ellipse cx="98.1" cy="348.8" rx="2.1" ry="0.8" opacity="0.65"/><ellipse cx="114.6" cy="349.8" rx="1.1" ry="0.6" opacity="0.59"/><ellipse cx="101.7" cy="349.0" rx="1.2" ry="0.8" opacity="0.95"/><ellipse cx="110.6" cy="349.6" rx="1.6" ry="0.7" opacity="0.70"/><ellipse cx="82.4" cy="361.6" rx="1.1" ry="1.0" opacity="0.83"/><ellipse cx="116.6" cy="360.5" rx="1.2" ry="0.9" opacity="0.75"/><ellipse cx="121.2" cy="361.5" rx="0.9" ry="0.7" opacity="0.87"/><ellipse cx="118.3" cy="361.0" rx="0.9" ry="0.9" opacity="0.97"/><ellipse cx="115.8" cy="361.6" rx="1.2" ry="0.7" opacity="0.62"/><ellipse cx="102.6" cy="361.6" rx="1.8" ry="1.0" opacity="0.89"/><ellipse cx="99.6" cy="360.2" rx="1.9" ry="0.8" opacity="0.96"/><ellipse cx="107.4" cy="360.3" rx="1.2" ry="1.0" opacity="0.86"/><ellipse cx="84.3" cy="360.9" rx="1.7" ry="0.9" opacity="0.65"/><ellipse cx="105.1" cy="360.6" rx="1.5" ry="1.2" opacity="0.84"/><ellipse cx="117.8" cy="360.5" rx="1.2" ry="1.2" opacity="0.87"/><ellipse cx="92.6" cy="360.9" rx="1.8" ry="0.9" opacity="0.67"/><ellipse cx="109.1" cy="360.5" rx="0.9" ry="0.9" opacity="0.74"/><ellipse cx="108.9" cy="361.4" rx="1.9" ry="1.0" opacity="0.64"/><ellipse cx="121.3" cy="361.4" rx="1.2" ry="0.8" opacity="0.89"/><ellipse cx="93.2" cy="360.9" rx="1.1" ry="0.8" opacity="0.74"/><ellipse cx="109.0" cy="360.4" rx="1.4" ry="0.8" opacity="0.99"/><ellipse cx="85.5" cy="360.2" rx="1.4" ry="1.2" opacity="0.95"/><ellipse cx="112.0" cy="361.6" rx="1.3" ry="0.8" opacity="0.97"/><ellipse cx="111.4" cy="361.2" rx="1.4" ry="0.9" opacity="0.70"/><ellipse cx="86.6" cy="360.6" rx="1.4" ry="1.2" opacity="0.61"/><ellipse cx="120.9" cy="360.7" rx="2.0" ry="1.1" opacity="0.74"/><ellipse cx="82.1" cy="360.7" rx="2.1" ry="0.8" opacity="0.71"/><ellipse cx="117.8" cy="360.8" rx="2.0" ry="1.1" opacity="0.57"/><ellipse cx="81.0" cy="361.5" rx="1.2" ry="1.1" opacity="0.95"/><ellipse cx="94.2" cy="361.6" rx="1.7" ry="0.8" opacity="0.87"/><ellipse cx="93.3" cy="360.1" rx="1.9" ry="1.2" opacity="0.84"/><ellipse cx="119.8" cy="360.5" rx="1.5" ry="1.2" opacity="0.98"/><ellipse cx="96.2" cy="360.8" rx="1.5" ry="1.2" opacity="0.63"/><ellipse cx="114.6" cy="361.4" rx="1.9" ry="1.0" opacity="0.70"/><ellipse cx="93.5" cy="361.3" rx="1.0" ry="0.8" opacity="0.89"/><ellipse cx="90.1" cy="360.2" rx="1.6" ry="0.9" opacity="0.99"/><ellipse cx="118.4" cy="360.5" rx="1.0" ry="0.7" opacity="0.77"/><ellipse cx="110.3" cy="360.5" rx="1.4" ry="1.0" opacity="0.85"/><ellipse cx="112.4" cy="361.2" rx="1.1" ry="1.1" opacity="0.68"/><ellipse cx="104.1" cy="361.3" rx="1.2" ry="0.8" opacity="0.66"/><ellipse cx="87.0" cy="361.0" rx="1.3" ry="0.9" opacity="1.00"/><ellipse cx="101.4" cy="361.4" rx="1.7" ry="1.2" opacity="0.60"/><ellipse cx="100.7" cy="361.4" rx="2.1" ry="0.7" opacity="0.68"/><ellipse cx="84.7" cy="361.6" rx="1.7" ry="1.2" opacity="0.72"/><ellipse cx="117.0" cy="360.5" rx="1.9" ry="1.2" opacity="0.60"/><ellipse cx="105.7" cy="360.5" rx="1.4" ry="0.8" opacity="0.64"/><ellipse cx="78.3" cy="366.9" rx="1.2" ry="0.8" opacity="0.70"/><ellipse cx="118.7" cy="365.7" rx="1.2" ry="1.2" opacity="0.80"/><ellipse cx="59.1" cy="366.7" rx="1.6" ry="1.1" opacity="0.59"/><ellipse cx="69.6" cy="366.6" rx="1.3" ry="0.9" opacity="0.98"/><ellipse cx="83.8" cy="366.3" rx="1.4" ry="1.3" opacity="1.00"/><ellipse cx="88.3" cy="366.9" rx="1.2" ry="0.8" opacity="0.96"/><ellipse cx="94.9" cy="366.2" rx="2.0" ry="1.0" opacity="0.62"/><ellipse cx="55.0" cy="367.2" rx="2.1" ry="0.8" opacity="0.83"/><ellipse cx="89.4" cy="365.9" rx="1.3" ry="1.1" opacity="0.97"/><ellipse cx="64.0" cy="367.4" rx="2.2" ry="0.9" opacity="0.61"/><ellipse cx="145.3" cy="365.7" rx="1.0" ry="1.3" opacity="0.72"/><ellipse cx="141.1" cy="366.3" rx="1.1" ry="1.2" opacity="0.65"/><ellipse cx="93.0" cy="367.0" rx="1.1" ry="0.9" opacity="0.73"/><ellipse cx="103.4" cy="365.6" rx="1.2" ry="1.2" opacity="0.95"/><ellipse cx="57.5" cy="367.4" rx="0.9" ry="1.3" opacity="0.60"/><ellipse cx="111.5" cy="366.4" rx="1.3" ry="1.0" opacity="0.81"/><ellipse cx="94.9" cy="366.3" rx="1.5" ry="0.8" opacity="0.83"/><ellipse cx="100.5" cy="366.8" rx="1.9" ry="1.0" opacity="0.63"/><ellipse cx="98.8" cy="365.7" rx="1.5" ry="0.8" opacity="0.75"/><ellipse cx="102.3" cy="366.5" rx="1.0" ry="1.2" opacity="0.90"/><ellipse cx="102.4" cy="366.3" rx="1.4" ry="1.3" opacity="0.61"/><ellipse cx="137.0" cy="366.2" rx="2.0" ry="0.9" opacity="0.99"/><ellipse cx="101.6" cy="367.0" rx="1.1" ry="1.2" opacity="0.97"/><ellipse cx="59.7" cy="367.3" rx="1.1" ry="1.3" opacity="0.67"/><ellipse cx="131.9" cy="365.9" rx="2.1" ry="0.9" opacity="0.67"/><ellipse cx="102.2" cy="365.5" rx="1.1" ry="0.8" opacity="0.97"/><ellipse cx="119.7" cy="365.5" rx="1.9" ry="0.8" opacity="0.79"/><ellipse cx="114.9" cy="366.7" rx="1.6" ry="1.1" opacity="0.95"/><ellipse cx="64.2" cy="367.1" rx="1.4" ry="1.2" opacity="0.67"/><ellipse cx="149.4" cy="365.4" rx="1.9" ry="1.0" opacity="0.63"/><ellipse cx="124.9" cy="366.5" rx="1.2" ry="1.1" opacity="0.99"/><ellipse cx="110.4" cy="365.9" rx="0.9" ry="0.8" opacity="0.62"/><ellipse cx="113.0" cy="366.2" rx="2.1" ry="0.8" opacity="0.65"/><ellipse cx="116.1" cy="365.3" rx="1.4" ry="0.8" opacity="0.71"/><ellipse cx="75.3" cy="366.8" rx="1.2" ry="1.1" opacity="0.76"/><ellipse cx="67.1" cy="366.4" rx="1.1" ry="0.8" opacity="0.84"/><ellipse cx="138.1" cy="365.6" rx="1.2" ry="0.8" opacity="0.84"/><ellipse cx="107.7" cy="366.5" rx="1.5" ry="1.3" opacity="0.88"/><ellipse cx="78.0" cy="365.9" rx="1.6" ry="1.0" opacity="0.66"/><ellipse cx="59.5" cy="366.1" rx="1.6" ry="1.3" opacity="0.61"/><ellipse cx="72.9" cy="366.7" rx="1.7" ry="1.2" opacity="0.63"/><ellipse cx="83.2" cy="365.8" rx="2.1" ry="1.2" opacity="0.87"/><ellipse cx="54.5" cy="367.4" rx="1.5" ry="1.2" opacity="0.75"/><ellipse cx="74.9" cy="366.2" rx="1.0" ry="1.0" opacity="0.89"/><ellipse cx="121.1" cy="366.4" rx="1.2" ry="1.1" opacity="0.75"/><ellipse cx="129.8" cy="365.5" rx="1.7" ry="1.3" opacity="0.65"/><ellipse cx="138.0" cy="365.4" rx="1.2" ry="1.2" opacity="0.98"/><ellipse cx="125.4" cy="366.6" rx="1.3" ry="0.9" opacity="0.96"/><ellipse cx="114.7" cy="366.4" rx="2.2" ry="1.0" opacity="0.93"/><ellipse cx="121.4" cy="365.9" rx="1.8" ry="1.1" opacity="0.69"/><ellipse cx="74.1" cy="366.0" rx="2.1" ry="0.8" opacity="0.56"/><ellipse cx="64.3" cy="366.6" rx="1.1" ry="0.8" opacity="0.57"/><ellipse cx="120.6" cy="366.4" rx="1.9" ry="0.8" opacity="0.82"/><ellipse cx="89.0" cy="367.0" rx="2.1" ry="0.8" opacity="0.94"/><ellipse cx="142.5" cy="365.1" rx="1.2" ry="0.8" opacity="0.57"/><ellipse cx="135.8" cy="366.0" rx="2.0" ry="1.1" opacity="0.68"/><ellipse cx="62.7" cy="367.3" rx="1.2" ry="0.9" opacity="0.74"/><ellipse cx="55.2" cy="366.6" rx="1.8" ry="1.0" opacity="0.69"/><ellipse cx="146.7" cy="366.2" rx="1.7" ry="0.8" opacity="0.74"/><ellipse cx="96.0" cy="366.1" rx="1.8" ry="1.1" opacity="0.65"/><ellipse cx="136.4" cy="366.3" rx="1.1" ry="0.8" opacity="0.64"/><ellipse cx="127.8" cy="365.1" rx="1.5" ry="1.0" opacity="0.91"/><ellipse cx="71.3" cy="366.5" rx="2.0" ry="0.9" opacity="0.97"/><ellipse cx="80.6" cy="366.9" rx="1.5" ry="0.8" opacity="0.84"/><ellipse cx="61.7" cy="367.2" rx="1.9" ry="1.1" opacity="0.71"/><ellipse cx="92.2" cy="367.1" rx="1.0" ry="1.3" opacity="0.56"/><ellipse cx="73.1" cy="367.4" rx="1.6" ry="1.0" opacity="0.95"/><ellipse cx="76.0" cy="366.7" rx="1.9" ry="1.2" opacity="0.84"/><ellipse cx="87.0" cy="365.9" rx="2.0" ry="1.1" opacity="0.88"/><ellipse cx="69.8" cy="367.2" rx="1.7" ry="0.8" opacity="0.76"/><ellipse cx="138.8" cy="365.2" rx="1.3" ry="1.2" opacity="0.93"/><ellipse cx="68.0" cy="366.4" rx="1.3" ry="1.1" opacity="0.62"/><ellipse cx="84.9" cy="367.3" rx="1.8" ry="0.8" opacity="0.98"/><ellipse cx="63.2" cy="367.7" rx="1.9" ry="1.2" opacity="0.75"/><ellipse cx="72.6" cy="366.1" rx="1.2" ry="1.0" opacity="0.57"/><ellipse cx="92.4" cy="366.8" rx="1.6" ry="1.1" opacity="0.76"/><ellipse cx="67.3" cy="366.6" rx="1.9" ry="1.3" opacity="0.74"/><ellipse cx="109.3" cy="366.1" rx="1.2" ry="1.2" opacity="0.95"/><ellipse cx="128.6" cy="366.5" rx="1.8" ry="1.1" opacity="0.75"/><ellipse cx="83.9" cy="365.9" rx="1.4" ry="1.2" opacity="0.87"/><ellipse cx="114.1" cy="366.0" rx="1.5" ry="1.1" opacity="0.73"/><ellipse cx="119.3" cy="365.5" rx="1.8" ry="1.2" opacity="0.72"/><ellipse cx="101.4" cy="365.5" rx="1.6" ry="0.8" opacity="0.90"/><ellipse cx="144.5" cy="365.0" rx="1.6" ry="1.1" opacity="0.87"/><ellipse cx="103.2" cy="366.8" rx="1.6" ry="1.0" opacity="0.98"/><ellipse cx="74.0" cy="366.5" rx="1.9" ry="0.8" opacity="0.99"/><ellipse cx="87.3" cy="366.1" rx="1.4" ry="0.8" opacity="0.74"/><ellipse cx="94.4" cy="366.2" rx="1.2" ry="0.9" opacity="0.88"/><ellipse cx="144.4" cy="365.2" rx="1.9" ry="1.0" opacity="0.65"/><ellipse cx="66.3" cy="367.3" rx="1.7" ry="1.0" opacity="0.80"/><ellipse cx="75.9" cy="366.4" rx="1.7" ry="1.2" opacity="0.92"/><ellipse cx="98.5" cy="366.4" rx="1.1" ry="1.3" opacity="0.71"/><ellipse cx="135.5" cy="365.6" rx="1.2" ry="1.0" opacity="0.63"/><ellipse cx="54.0" cy="366.6" rx="1.2" ry="0.9" opacity="0.77"/><ellipse cx="95.1" cy="366.7" rx="1.4" ry="1.3" opacity="0.93"/><ellipse cx="59.4" cy="367.6" rx="1.9" ry="0.8" opacity="0.92"/><ellipse cx="74.2" cy="371.4" rx="2.1" ry="1.0" opacity="0.66"/><ellipse cx="46.6" cy="371.8" rx="1.9" ry="0.9" opacity="0.62"/><ellipse cx="89.3" cy="371.7" rx="2.1" ry="1.0" opacity="0.90"/><ellipse cx="77.1" cy="372.6" rx="2.0" ry="0.8" opacity="0.86"/><ellipse cx="69.8" cy="372.1" rx="2.0" ry="1.0" opacity="0.67"/><ellipse cx="53.5" cy="372.2" rx="1.0" ry="0.9" opacity="0.61"/><ellipse cx="67.4" cy="372.3" rx="2.0" ry="0.7" opacity="0.93"/><ellipse cx="66.2" cy="372.5" rx="2.0" ry="0.9" opacity="0.74"/><ellipse cx="91.4" cy="372.4" rx="1.7" ry="0.7" opacity="0.82"/><ellipse cx="77.9" cy="371.9" rx="2.2" ry="1.0" opacity="0.77"/><ellipse cx="88.1" cy="372.5" rx="1.7" ry="0.9" opacity="0.94"/><ellipse cx="60.8" cy="372.2" rx="1.9" ry="0.8" opacity="0.75"/><ellipse cx="63.9" cy="372.7" rx="1.3" ry="1.1" opacity="0.73"/><ellipse cx="67.8" cy="372.2" rx="2.2" ry="1.0" opacity="0.91"/><ellipse cx="58.8" cy="371.9" rx="1.7" ry="1.0" opacity="0.90"/><ellipse cx="44.1" cy="372.8" rx="1.6" ry="0.7" opacity="0.69"/><ellipse cx="41.7" cy="372.8" rx="1.7" ry="1.0" opacity="0.91"/><ellipse cx="89.4" cy="372.4" rx="1.7" ry="1.1" opacity="0.82"/><ellipse cx="77.0" cy="372.5" rx="1.5" ry="1.1" opacity="0.60"/><ellipse cx="50.6" cy="372.6" rx="2.1" ry="1.0" opacity="0.72"/><ellipse cx="85.1" cy="372.3" rx="1.2" ry="0.9" opacity="0.74"/><ellipse cx="58.3" cy="372.4" rx="2.1" ry="0.7" opacity="0.81"/><ellipse cx="43.3" cy="372.7" rx="1.6" ry="1.2" opacity="0.75"/><ellipse cx="42.3" cy="372.3" rx="2.1" ry="1.2" opacity="0.76"/><ellipse cx="62.8" cy="372.4" rx="1.2" ry="0.8" opacity="0.56"/><ellipse cx="42.2" cy="371.6" rx="2.2" ry="0.7" opacity="0.94"/><ellipse cx="47.9" cy="372.5" rx="1.2" ry="1.1" opacity="0.63"/><ellipse cx="44.7" cy="372.5" rx="2.0" ry="1.1" opacity="0.59"/><ellipse cx="74.8" cy="372.1" rx="2.1" ry="0.8" opacity="0.98"/><ellipse cx="78.6" cy="371.5" rx="1.7" ry="1.1" opacity="0.59"/><ellipse cx="58.2" cy="371.7" rx="2.0" ry="1.0" opacity="0.58"/><ellipse cx="61.0" cy="372.1" rx="1.8" ry="0.8" opacity="0.91"/><ellipse cx="60.9" cy="372.4" rx="1.4" ry="0.9" opacity="0.90"/><ellipse cx="91.5" cy="372.3" rx="1.3" ry="0.7" opacity="0.99"/><ellipse cx="78.9" cy="371.9" rx="1.7" ry="1.2" opacity="0.92"/><ellipse cx="72.9" cy="372.1" rx="2.1" ry="0.9" opacity="0.86"/><ellipse cx="73.6" cy="372.7" rx="1.3" ry="0.7" opacity="0.67"/><ellipse cx="63.9" cy="372.7" rx="2.1" ry="0.7" opacity="0.92"/><ellipse cx="84.6" cy="372.3" rx="1.3" ry="1.2" opacity="0.91"/><ellipse cx="78.0" cy="372.0" rx="1.0" ry="1.0" opacity="0.91"/><ellipse cx="52.5" cy="372.9" rx="1.2" ry="1.0" opacity="0.85"/><ellipse cx="65.7" cy="371.8" rx="1.9" ry="1.1" opacity="0.76"/><ellipse cx="46.7" cy="372.6" rx="1.2" ry="1.0" opacity="0.95"/><ellipse cx="88.0" cy="372.2" rx="1.7" ry="0.8" opacity="0.64"/><ellipse cx="51.4" cy="372.0" rx="1.6" ry="0.9" opacity="0.78"/><ellipse cx="48.9" cy="373.0" rx="1.4" ry="0.7" opacity="0.83"/><ellipse cx="82.5" cy="372.3" rx="1.3" ry="1.0" opacity="0.56"/><ellipse cx="44.0" cy="372.8" rx="1.5" ry="1.0" opacity="0.67"/><ellipse cx="82.4" cy="372.9" rx="1.9" ry="1.1" opacity="0.98"/><ellipse cx="54.4" cy="371.7" rx="1.1" ry="0.7" opacity="0.57"/><ellipse cx="71.3" cy="372.1" rx="2.1" ry="1.2" opacity="0.58"/><ellipse cx="72.9" cy="371.6" rx="2.1" ry="0.8" opacity="0.80"/><ellipse cx="97.4" cy="346.8" rx="0.7" ry="1.2" opacity="0.62"/><ellipse cx="103.0" cy="338.0" rx="0.5" ry="1.0" opacity="0.71"/><ellipse cx="101.8" cy="340.6" rx="0.5" ry="1.4" opacity="0.87"/><ellipse cx="97.6" cy="345.6" rx="0.6" ry="1.4" opacity="0.97"/><ellipse cx="97.3" cy="345.8" rx="0.9" ry="0.9" opacity="0.70"/><ellipse cx="89.9" cy="356.0" rx="0.6" ry="1.0" opacity="0.61"/><ellipse cx="96.9" cy="346.0" rx="0.6" ry="0.8" opacity="0.97"/><ellipse cx="90.3" cy="357.5" rx="0.9" ry="0.9" opacity="0.75"/><ellipse cx="88.2" cy="360.6" rx="0.8" ry="1.2" opacity="0.70"/><ellipse cx="100.0" cy="342.2" rx="0.6" ry="1.0" opacity="0.58"/><ellipse cx="98.2" cy="344.1" rx="0.9" ry="1.0" opacity="0.74"/><ellipse cx="88.4" cy="359.1" rx="0.7" ry="0.9" opacity="0.77"/><ellipse cx="91.9" cy="353.9" rx="1.0" ry="0.8" opacity="0.95"/><ellipse cx="97.0" cy="345.8" rx="0.6" ry="1.0" opacity="0.64"/><ellipse cx="92.8" cy="354.2" rx="1.0" ry="0.9" opacity="0.68"/><ellipse cx="100.7" cy="340.6" rx="0.6" ry="1.6" opacity="0.56"/><ellipse cx="99.5" cy="341.8" rx="0.5" ry="1.5" opacity="0.79"/><ellipse cx="89.1" cy="358.5" rx="0.6" ry="1.3" opacity="0.61"/><ellipse cx="89.4" cy="358.3" rx="0.6" ry="0.9" opacity="0.59"/><ellipse cx="96.3" cy="346.9" rx="0.6" ry="1.3" opacity="0.87"/><ellipse cx="99.9" cy="341.8" rx="0.5" ry="1.4" opacity="0.73"/><ellipse cx="97.7" cy="345.0" rx="0.7" ry="1.5" opacity="0.94"/><ellipse cx="93.8" cy="350.9" rx="0.7" ry="1.5" opacity="0.67"/><ellipse cx="89.6" cy="357.6" rx="0.6" ry="1.1" opacity="0.82"/><ellipse cx="86.1" cy="362.2" rx="0.8" ry="0.9" opacity="0.87"/><ellipse cx="100.3" cy="341.8" rx="0.9" ry="1.1" opacity="0.89"/><ellipse cx="87.5" cy="361.6" rx="0.7" ry="1.2" opacity="0.79"/><ellipse cx="94.6" cy="349.9" rx="0.6" ry="0.9" opacity="0.60"/><ellipse cx="90.6" cy="355.4" rx="0.5" ry="1.4" opacity="0.64"/><ellipse cx="86.4" cy="362.1" rx="0.8" ry="1.4" opacity="0.60"/><ellipse cx="36.9" cy="374.3" rx="0.6" ry="1.2" opacity="0.78"/><ellipse cx="34.4" cy="370.1" rx="0.6" ry="1.3" opacity="0.94"/><ellipse cx="34.5" cy="369.6" rx="0.6" ry="1.5" opacity="0.97"/><ellipse cx="35.1" cy="371.6" rx="0.8" ry="1.1" opacity="0.97"/><ellipse cx="36.1" cy="373.8" rx="0.7" ry="1.1" opacity="0.99"/><ellipse cx="36.9" cy="374.9" rx="0.9" ry="0.8" opacity="0.78"/><ellipse cx="37.4" cy="375.3" rx="0.7" ry="1.3" opacity="0.71"/><ellipse cx="35.1" cy="372.1" rx="0.8" ry="0.8" opacity="0.61"/><ellipse cx="54.0" cy="380.8" rx="1.7" ry="1.1" opacity="0.95"/><ellipse cx="51.5" cy="380.3" rx="1.2" ry="1.1" opacity="0.67"/><ellipse cx="46.1" cy="380.3" rx="1.2" ry="1.0" opacity="0.75"/><ellipse cx="53.0" cy="379.8" rx="1.7" ry="0.8" opacity="0.82"/><ellipse cx="53.4" cy="379.7" rx="1.5" ry="1.0" opacity="0.62"/><ellipse cx="37.3" cy="379.8" rx="1.4" ry="0.8" opacity="0.66"/><ellipse cx="37.1" cy="380.6" rx="1.7" ry="1.0" opacity="0.84"/><ellipse cx="39.4" cy="380.0" rx="1.6" ry="1.0" opacity="0.76"/><ellipse cx="40.9" cy="379.7" rx="1.6" ry="0.9" opacity="0.81"/><ellipse cx="35.4" cy="380.7" rx="1.2" ry="1.0" opacity="0.77"/><ellipse cx="41.3" cy="379.8" rx="1.9" ry="0.8" opacity="0.58"/><ellipse cx="51.7" cy="379.4" rx="1.4" ry="0.9" opacity="0.88"/><ellipse cx="37.1" cy="380.8" rx="1.9" ry="0.8" opacity="0.70"/><ellipse cx="42.2" cy="380.3" rx="2.0" ry="1.1" opacity="0.78"/><ellipse cx="49.6" cy="380.5" rx="1.5" ry="1.1" opacity="0.87"/><ellipse cx="52.1" cy="380.7" rx="0.9" ry="1.1" opacity="0.81"/><ellipse cx="45.3" cy="380.2" rx="1.4" ry="1.1" opacity="0.94"/><ellipse cx="46.7" cy="380.0" rx="1.5" ry="1.1" opacity="0.68"/><ellipse cx="113.1" cy="381.7" rx="1.3" ry="0.9" opacity="0.93"/><ellipse cx="115.4" cy="381.4" rx="1.3" ry="0.6" opacity="0.81"/><ellipse cx="116.8" cy="382.3" rx="1.3" ry="0.9" opacity="0.93"/><ellipse cx="125.3" cy="381.7" rx="2.1" ry="0.6" opacity="0.57"/><ellipse cx="116.9" cy="382.3" rx="1.9" ry="0.8" opacity="1.00"/><ellipse cx="115.9" cy="382.0" rx="1.4" ry="0.7" opacity="0.82"/><ellipse cx="112.7" cy="382.0" rx="1.6" ry="0.6" opacity="0.72"/><ellipse cx="113.4" cy="381.9" rx="2.0" ry="1.0" opacity="0.77"/><ellipse cx="114.3" cy="382.4" rx="1.3" ry="0.8" opacity="0.92"/><ellipse cx="108.0" cy="382.4" rx="2.0" ry="0.8" opacity="0.60"/><ellipse cx="124.5" cy="382.2" rx="2.2" ry="1.0" opacity="0.74"/><ellipse cx="107.6" cy="381.8" rx="1.6" ry="0.6" opacity="0.63"/><ellipse cx="118.5" cy="381.6" rx="2.2" ry="0.8" opacity="0.57"/><ellipse cx="113.9" cy="381.6" rx="1.8" ry="0.6" opacity="0.69"/><ellipse cx="123.2" cy="382.0" rx="1.2" ry="0.8" opacity="0.80"/><ellipse cx="110.5" cy="381.8" rx="2.2" ry="0.8" opacity="0.73"/><ellipse cx="106.7" cy="382.1" rx="1.0" ry="0.6" opacity="0.63"/><ellipse cx="116.4" cy="381.9" rx="1.9" ry="0.6" opacity="0.56"/><ellipse cx="121.3" cy="382.1" rx="1.4" ry="0.6" opacity="0.67"/><ellipse cx="107.1" cy="381.9" rx="1.4" ry="0.8" opacity="0.72"/><ellipse cx="106.1" cy="381.9" rx="2.1" ry="0.8" opacity="0.83"/><ellipse cx="109.4" cy="382.3" rx="2.0" ry="0.7" opacity="0.95"/><ellipse cx="123.2" cy="385.8" rx="2.1" ry="0.7" opacity="0.98"/><ellipse cx="121.6" cy="385.9" rx="1.2" ry="0.6" opacity="0.94"/><ellipse cx="122.8" cy="385.4" rx="1.1" ry="0.6" opacity="0.63"/><ellipse cx="123.7" cy="385.8" rx="1.0" ry="0.7" opacity="0.72"/><ellipse cx="33.4" cy="404.3" rx="0.9" ry="1.1" opacity="0.66"/><ellipse cx="33.4" cy="399.8" rx="0.5" ry="1.3" opacity="0.70"/><ellipse cx="33.9" cy="398.8" rx="0.6" ry="1.5" opacity="0.61"/><ellipse cx="34.3" cy="406.2" rx="0.6" ry="1.1" opacity="0.88"/><ellipse cx="34.4" cy="403.8" rx="1.0" ry="1.2" opacity="0.65"/><ellipse cx="33.5" cy="406.3" rx="0.6" ry="1.5" opacity="0.81"/><ellipse cx="33.6" cy="404.3" rx="0.6" ry="1.5" opacity="0.61"/><ellipse cx="34.1" cy="406.9" rx="0.9" ry="1.1" opacity="0.85"/><ellipse cx="33.8" cy="408.3" rx="0.5" ry="0.9" opacity="0.93"/><ellipse cx="34.0" cy="402.5" rx="0.8" ry="1.1" opacity="0.78"/><ellipse cx="33.3" cy="402.2" rx="0.6" ry="0.9" opacity="0.87"/><ellipse cx="33.7" cy="402.8" rx="0.9" ry="1.5" opacity="0.94"/><ellipse cx="33.4" cy="398.2" rx="0.8" ry="1.3" opacity="0.71"/><ellipse cx="34.1" cy="405.4" rx="0.6" ry="1.5" opacity="0.71"/><ellipse cx="33.7" cy="409.2" rx="1.0" ry="1.4" opacity="0.87"/><ellipse cx="33.0" cy="396.4" rx="0.6" ry="1.0" opacity="0.72"/><ellipse cx="33.3" cy="397.1" rx="0.6" ry="1.5" opacity="0.81"/><ellipse cx="33.9" cy="411.7" rx="0.8" ry="1.1" opacity="0.55"/><ellipse cx="34.7" cy="414.0" rx="0.5" ry="1.5" opacity="0.82"/><ellipse cx="33.2" cy="396.4" rx="0.9" ry="1.0" opacity="0.96"/><ellipse cx="33.8" cy="412.8" rx="0.7" ry="1.4" opacity="0.92"/><ellipse cx="33.3" cy="402.9" rx="0.7" ry="1.5" opacity="0.86"/><ellipse cx="153.5" cy="398.9" rx="1.5" ry="0.7" opacity="0.86"/><ellipse cx="141.4" cy="399.4" rx="1.1" ry="1.1" opacity="0.57"/><ellipse cx="152.1" cy="398.3" rx="1.6" ry="1.2" opacity="0.84"/><ellipse cx="145.5" cy="398.0" rx="1.4" ry="0.9" opacity="0.64"/><ellipse cx="136.5" cy="399.0" rx="1.8" ry="0.8" opacity="0.66"/><ellipse cx="144.6" cy="399.4" rx="1.4" ry="0.9" opacity="0.95"/><ellipse cx="130.6" cy="398.4" rx="2.0" ry="1.0" opacity="0.89"/><ellipse cx="131.8" cy="398.9" rx="1.5" ry="1.1" opacity="0.92"/><ellipse cx="129.3" cy="398.5" rx="1.2" ry="0.7" opacity="0.68"/><ellipse cx="132.9" cy="398.6" rx="1.0" ry="0.9" opacity="0.76"/><ellipse cx="138.5" cy="398.0" rx="0.9" ry="1.2" opacity="0.89"/><ellipse cx="128.6" cy="399.4" rx="1.6" ry="0.7" opacity="0.77"/><ellipse cx="141.2" cy="398.8" rx="0.9" ry="1.2" opacity="0.84"/><ellipse cx="149.5" cy="398.9" rx="1.2" ry="0.8" opacity="0.61"/><ellipse cx="126.6" cy="399.2" rx="1.3" ry="0.8" opacity="0.84"/><ellipse cx="157.7" cy="398.2" rx="1.9" ry="1.1" opacity="0.88"/><ellipse cx="137.2" cy="399.2" rx="1.3" ry="0.9" opacity="0.80"/><ellipse cx="139.6" cy="398.3" rx="1.0" ry="1.0" opacity="0.83"/><ellipse cx="156.4" cy="399.3" rx="2.1" ry="1.0" opacity="0.77"/><ellipse cx="130.9" cy="398.8" rx="1.0" ry="1.1" opacity="0.62"/><ellipse cx="142.5" cy="398.1" rx="1.0" ry="0.9" opacity="0.64"/><ellipse cx="151.9" cy="399.2" rx="2.0" ry="1.1" opacity="0.74"/><ellipse cx="136.1" cy="398.7" rx="1.4" ry="0.9" opacity="0.75"/><ellipse cx="150.8" cy="399.3" rx="1.1" ry="0.9" opacity="0.75"/><ellipse cx="146.3" cy="398.2" rx="1.0" ry="0.9" opacity="0.76"/><ellipse cx="162.4" cy="399.3" rx="2.2" ry="1.2" opacity="0.83"/><ellipse cx="155.3" cy="399.0" rx="1.7" ry="0.9" opacity="0.81"/><ellipse cx="161.2" cy="398.9" rx="1.3" ry="0.9" opacity="0.95"/><ellipse cx="125.9" cy="399.0" rx="1.5" ry="0.7" opacity="0.85"/><ellipse cx="139.4" cy="398.6" rx="1.6" ry="1.0" opacity="0.73"/><ellipse cx="129.1" cy="399.3" rx="1.6" ry="0.7" opacity="0.94"/><ellipse cx="134.3" cy="398.7" rx="1.2" ry="1.0" opacity="0.80"/><ellipse cx="133.9" cy="398.1" rx="1.6" ry="1.0" opacity="0.59"/><ellipse cx="140.1" cy="398.6" rx="2.0" ry="1.0" opacity="0.87"/><ellipse cx="153.3" cy="399.5" rx="1.8" ry="0.7" opacity="0.92"/><ellipse cx="139.6" cy="399.4" rx="1.6" ry="1.1" opacity="0.61"/><ellipse cx="154.0" cy="398.3" rx="1.4" ry="0.7" opacity="0.82"/><ellipse cx="141.8" cy="396.3" rx="1.5" ry="1.0" opacity="0.83"/><ellipse cx="157.6" cy="396.5" rx="2.0" ry="0.6" opacity="0.89"/><ellipse cx="145.3" cy="396.2" rx="2.0" ry="0.6" opacity="0.72"/><ellipse cx="154.9" cy="396.3" rx="1.0" ry="0.8" opacity="0.59"/><ellipse cx="150.3" cy="395.5" rx="2.1" ry="0.9" opacity="0.66"/><ellipse cx="141.5" cy="396.4" rx="1.7" ry="0.6" opacity="0.56"/><ellipse cx="140.0" cy="395.6" rx="1.6" ry="0.7" opacity="0.86"/><ellipse cx="145.5" cy="396.5" rx="1.6" ry="0.9" opacity="0.91"/><ellipse cx="158.7" cy="395.8" rx="1.1" ry="0.8" opacity="0.94"/><ellipse cx="155.3" cy="395.6" rx="2.0" ry="0.9" opacity="0.73"/><ellipse cx="147.8" cy="396.4" rx="1.4" ry="1.0" opacity="0.82"/><ellipse cx="138.6" cy="395.6" rx="2.1" ry="0.8" opacity="0.57"/><ellipse cx="140.8" cy="396.0" rx="1.7" ry="0.7" opacity="0.71"/><ellipse cx="137.2" cy="395.8" rx="0.9" ry="0.8" opacity="0.99"/><ellipse cx="137.6" cy="396.2" rx="1.3" ry="0.7" opacity="0.78"/><ellipse cx="143.2" cy="396.0" rx="2.1" ry="1.0" opacity="0.57"/><ellipse cx="150.5" cy="396.5" rx="1.9" ry="0.8" opacity="0.84"/><ellipse cx="145.3" cy="396.4" rx="2.0" ry="1.0" opacity="0.86"/><ellipse cx="144.5" cy="396.3" rx="1.6" ry="0.8" opacity="0.71"/><ellipse cx="149.8" cy="395.4" rx="1.3" ry="0.7" opacity="0.99"/><ellipse cx="148.2" cy="395.7" rx="1.2" ry="0.7" opacity="0.61"/><ellipse cx="137.6" cy="395.9" rx="1.5" ry="0.8" opacity="0.69"/><ellipse cx="140.4" cy="395.7" rx="1.3" ry="0.9" opacity="0.80"/><ellipse cx="117.3" cy="404.4" rx="1.7" ry="0.7" opacity="0.63"/><ellipse cx="103.8" cy="403.6" rx="1.9" ry="0.8" opacity="0.94"/><ellipse cx="82.7" cy="404.4" rx="1.3" ry="0.8" opacity="0.56"/><ellipse cx="86.3" cy="404.1" rx="1.2" ry="0.8" opacity="0.64"/><ellipse cx="104.6" cy="404.0" rx="1.2" ry="1.0" opacity="0.98"/><ellipse cx="103.5" cy="404.2" rx="2.0" ry="0.8" opacity="0.61"/><ellipse cx="87.6" cy="404.3" rx="1.7" ry="1.1" opacity="0.65"/><ellipse cx="93.4" cy="404.0" rx="1.4" ry="1.0" opacity="0.70"/><ellipse cx="82.2" cy="403.2" rx="1.7" ry="0.8" opacity="0.77"/><ellipse cx="103.6" cy="403.7" rx="0.9" ry="1.1" opacity="0.80"/><ellipse cx="119.0" cy="404.0" rx="1.8" ry="0.8" opacity="0.59"/><ellipse cx="85.8" cy="404.2" rx="1.0" ry="1.0" opacity="0.74"/><ellipse cx="101.7" cy="403.9" rx="1.8" ry="0.9" opacity="0.70"/><ellipse cx="109.4" cy="404.1" rx="1.9" ry="1.0" opacity="0.69"/><ellipse cx="111.5" cy="403.7" rx="1.3" ry="0.9" opacity="0.97"/><ellipse cx="84.7" cy="403.8" rx="1.8" ry="1.0" opacity="0.71"/><ellipse cx="119.3" cy="404.2" rx="1.0" ry="0.6" opacity="0.61"/><ellipse cx="82.4" cy="403.9" rx="1.1" ry="1.1" opacity="0.71"/><ellipse cx="85.6" cy="404.1" rx="2.1" ry="0.7" opacity="0.56"/><ellipse cx="110.8" cy="404.5" rx="1.5" ry="0.9" opacity="0.70"/><ellipse cx="112.0" cy="403.6" rx="2.1" ry="0.7" opacity="0.88"/><ellipse cx="82.8" cy="403.7" rx="2.0" ry="0.7" opacity="0.80"/><ellipse cx="96.9" cy="404.4" rx="1.7" ry="0.7" opacity="0.66"/><ellipse cx="90.4" cy="403.4" rx="1.2" ry="1.0" opacity="0.84"/><ellipse cx="92.5" cy="403.4" rx="1.6" ry="0.7" opacity="0.94"/><ellipse cx="114.5" cy="404.2" rx="2.0" ry="0.8" opacity="0.70"/><ellipse cx="99.9" cy="403.3" rx="1.8" ry="0.9" opacity="0.75"/><ellipse cx="103.6" cy="403.4" rx="2.0" ry="0.8" opacity="0.90"/><ellipse cx="114.2" cy="404.3" rx="2.2" ry="0.8" opacity="0.56"/><ellipse cx="85.0" cy="403.1" rx="2.1" ry="0.7" opacity="0.88"/><ellipse cx="83.5" cy="404.1" rx="1.0" ry="0.8" opacity="0.96"/><ellipse cx="109.1" cy="404.5" rx="0.9" ry="0.7" opacity="0.91"/><ellipse cx="107.0" cy="403.8" rx="1.2" ry="0.8" opacity="0.60"/><ellipse cx="81.4" cy="403.5" rx="2.0" ry="0.7" opacity="0.77"/><ellipse cx="85.3" cy="403.4" rx="1.8" ry="0.7" opacity="0.88"/><ellipse cx="99.6" cy="403.6" rx="1.5" ry="1.1" opacity="0.71"/><ellipse cx="89.2" cy="404.3" rx="1.9" ry="0.8" opacity="0.63"/><ellipse cx="90.1" cy="403.2" rx="1.6" ry="0.8" opacity="0.80"/><ellipse cx="93.9" cy="404.1" rx="1.7" ry="0.9" opacity="0.80"/><ellipse cx="108.2" cy="404.3" rx="1.8" ry="0.8" opacity="0.69"/><ellipse cx="84.6" cy="408.0" rx="1.4" ry="1.2" opacity="0.61"/><ellipse cx="108.3" cy="408.4" rx="2.1" ry="1.1" opacity="0.82"/><ellipse cx="81.9" cy="407.6" rx="1.1" ry="1.5" opacity="0.90"/><ellipse cx="104.5" cy="408.6" rx="1.3" ry="1.3" opacity="0.80"/><ellipse cx="80.1" cy="407.2" rx="1.9" ry="1.5" opacity="0.78"/><ellipse cx="92.1" cy="407.7" rx="1.7" ry="1.4" opacity="0.72"/><ellipse cx="96.5" cy="408.3" rx="1.7" ry="1.3" opacity="0.69"/><ellipse cx="93.1" cy="407.7" rx="1.7" ry="1.1" opacity="0.96"/><ellipse cx="86.6" cy="408.2" rx="1.5" ry="1.0" opacity="0.61"/><ellipse cx="105.9" cy="408.2" rx="1.6" ry="1.4" opacity="0.66"/><ellipse cx="73.8" cy="408.1" rx="1.7" ry="1.5" opacity="0.95"/><ellipse cx="102.8" cy="408.0" rx="2.0" ry="1.4" opacity="0.61"/><ellipse cx="72.3" cy="407.4" rx="1.4" ry="1.4" opacity="0.78"/><ellipse cx="85.0" cy="408.0" rx="2.2" ry="1.4" opacity="0.75"/><ellipse cx="86.9" cy="408.7" rx="1.1" ry="1.4" opacity="0.72"/><ellipse cx="88.1" cy="407.9" rx="1.3" ry="1.1" opacity="0.56"/><ellipse cx="74.7" cy="407.3" rx="1.1" ry="1.4" opacity="0.67"/><ellipse cx="79.6" cy="408.9" rx="1.0" ry="1.3" opacity="0.94"/><ellipse cx="74.6" cy="408.8" rx="1.7" ry="1.1" opacity="0.57"/><ellipse cx="84.9" cy="408.6" rx="1.3" ry="1.2" opacity="0.84"/><ellipse cx="100.7" cy="408.0" rx="1.7" ry="1.5" opacity="0.64"/><ellipse cx="108.0" cy="407.9" rx="1.8" ry="1.1" opacity="0.58"/><ellipse cx="98.4" cy="408.3" rx="1.5" ry="1.5" opacity="0.89"/><ellipse cx="67.2" cy="408.1" rx="1.5" ry="1.5" opacity="0.74"/><ellipse cx="86.8" cy="408.1" rx="1.5" ry="1.2" opacity="0.92"/><ellipse cx="95.1" cy="408.0" rx="1.0" ry="1.4" opacity="0.80"/><ellipse cx="99.4" cy="407.5" rx="1.2" ry="0.9" opacity="0.92"/><ellipse cx="69.9" cy="408.7" rx="1.6" ry="0.9" opacity="0.86"/><ellipse cx="96.6" cy="407.3" rx="1.8" ry="1.2" opacity="0.81"/><ellipse cx="109.3" cy="408.9" rx="1.1" ry="1.1" opacity="0.78"/><ellipse cx="66.8" cy="407.8" rx="1.2" ry="1.1" opacity="0.66"/><ellipse cx="103.0" cy="408.2" rx="1.4" ry="0.9" opacity="0.69"/><ellipse cx="103.6" cy="408.9" rx="1.2" ry="1.0" opacity="0.57"/><ellipse cx="88.9" cy="408.1" rx="1.5" ry="1.3" opacity="0.71"/><ellipse cx="100.1" cy="409.0" rx="1.6" ry="0.9" opacity="0.69"/><ellipse cx="88.8" cy="408.3" rx="1.3" ry="1.1" opacity="0.91"/><ellipse cx="78.8" cy="408.8" rx="1.7" ry="1.2" opacity="0.97"/><ellipse cx="85.6" cy="407.3" rx="1.5" ry="1.3" opacity="0.57"/><ellipse cx="102.6" cy="408.4" rx="1.1" ry="1.5" opacity="0.80"/><ellipse cx="100.4" cy="408.5" rx="1.8" ry="1.1" opacity="0.64"/><ellipse cx="101.6" cy="409.0" rx="1.2" ry="0.9" opacity="0.59"/><ellipse cx="100.3" cy="408.0" rx="1.8" ry="1.1" opacity="0.96"/><ellipse cx="95.1" cy="407.3" rx="1.8" ry="0.9" opacity="0.93"/><ellipse cx="86.7" cy="413.5" rx="1.3" ry="1.1" opacity="0.62"/><ellipse cx="102.3" cy="414.0" rx="1.1" ry="1.2" opacity="0.99"/><ellipse cx="88.9" cy="413.2" rx="1.7" ry="0.9" opacity="0.80"/><ellipse cx="82.0" cy="413.8" rx="1.5" ry="1.2" opacity="0.60"/><ellipse cx="100.0" cy="414.1" rx="2.2" ry="1.3" opacity="0.79"/><ellipse cx="86.8" cy="413.8" rx="1.5" ry="1.3" opacity="0.59"/><ellipse cx="92.3" cy="413.6" rx="1.6" ry="0.8" opacity="0.61"/><ellipse cx="87.0" cy="414.0" rx="1.2" ry="1.3" opacity="0.56"/><ellipse cx="95.2" cy="413.1" rx="2.1" ry="1.1" opacity="0.57"/><ellipse cx="88.0" cy="413.0" rx="1.9" ry="0.9" opacity="0.90"/><ellipse cx="86.6" cy="413.5" rx="1.0" ry="1.1" opacity="0.90"/><ellipse cx="94.5" cy="412.6" rx="1.6" ry="0.8" opacity="0.84"/><ellipse cx="83.1" cy="413.2" rx="1.4" ry="1.1" opacity="0.62"/><ellipse cx="84.5" cy="413.1" rx="2.0" ry="1.3" opacity="0.77"/><ellipse cx="82.9" cy="414.0" rx="1.1" ry="1.0" opacity="0.79"/><ellipse cx="82.6" cy="412.8" rx="1.6" ry="1.1" opacity="0.72"/><ellipse cx="84.5" cy="412.9" rx="1.1" ry="0.9" opacity="0.94"/><ellipse cx="92.7" cy="412.6" rx="2.1" ry="1.0" opacity="0.91"/><ellipse cx="94.2" cy="412.9" rx="1.9" ry="0.8" opacity="0.67"/><ellipse cx="80.3" cy="413.4" rx="1.3" ry="1.3" opacity="0.59"/><ellipse cx="93.8" cy="413.6" rx="1.9" ry="1.2" opacity="0.58"/><ellipse cx="86.0" cy="414.2" rx="1.0" ry="1.1" opacity="0.86"/><ellipse cx="99.9" cy="413.9" rx="1.5" ry="1.3" opacity="0.55"/><ellipse cx="103.1" cy="413.2" rx="1.0" ry="0.9" opacity="0.88"/><ellipse cx="96.3" cy="413.1" rx="1.1" ry="0.9" opacity="0.65"/><ellipse cx="77.5" cy="423.1" rx="1.9" ry="0.6" opacity="0.77"/><ellipse cx="84.2" cy="422.8" rx="1.7" ry="0.5" opacity="0.83"/><ellipse cx="85.0" cy="422.2" rx="1.8" ry="0.6" opacity="0.62"/><ellipse cx="86.7" cy="422.8" rx="1.1" ry="0.7" opacity="0.97"/><ellipse cx="85.9" cy="422.9" rx="1.9" ry="0.6" opacity="0.75"/><ellipse cx="84.7" cy="423.0" rx="1.3" ry="0.8" opacity="0.79"/><ellipse cx="85.7" cy="423.1" rx="1.9" ry="0.5" opacity="0.93"/><ellipse cx="75.1" cy="422.6" rx="1.2" ry="0.6" opacity="0.96"/><ellipse cx="82.5" cy="422.5" rx="1.9" ry="0.7" opacity="0.86"/><ellipse cx="86.5" cy="422.5" rx="1.0" ry="0.7" opacity="0.93"/><ellipse cx="77.2" cy="422.9" rx="1.9" ry="0.4" opacity="0.77"/><ellipse cx="71.8" cy="422.9" rx="1.4" ry="0.6" opacity="0.76"/><ellipse cx="76.7" cy="422.5" rx="2.0" ry="0.7" opacity="0.68"/><ellipse cx="73.0" cy="422.8" rx="1.5" ry="0.7" opacity="0.91"/><ellipse cx="74.0" cy="422.2" rx="2.0" ry="0.5" opacity="0.67"/><ellipse cx="144.5" cy="337.0" rx="0.9" ry="1.3" opacity="0.95"/><ellipse cx="140.8" cy="342.4" rx="0.8" ry="1.6" opacity="0.64"/><ellipse cx="143.4" cy="338.4" rx="0.5" ry="0.9" opacity="0.98"/><ellipse cx="141.6" cy="341.1" rx="0.7" ry="0.9" opacity="0.80"/><ellipse cx="144.1" cy="338.0" rx="1.0" ry="1.5" opacity="0.85"/><ellipse cx="138.7" cy="344.3" rx="1.0" ry="1.1" opacity="0.85"/><ellipse cx="142.3" cy="340.0" rx="0.8" ry="1.5" opacity="0.77"/><ellipse cx="141.1" cy="341.6" rx="0.9" ry="1.3" opacity="0.80"/><ellipse cx="141.4" cy="341.9" rx="0.9" ry="1.4" opacity="0.57"/><ellipse cx="139.8" cy="342.9" rx="0.9" ry="0.9" opacity="0.81"/><ellipse cx="125.1" cy="315.1" rx="1.9" ry="0.6" opacity="0.68"/><ellipse cx="128.5" cy="315.2" rx="1.4" ry="0.7" opacity="0.84"/><ellipse cx="129.7" cy="315.1" rx="2.2" ry="0.6" opacity="0.86"/><ellipse cx="120.2" cy="315.3" rx="2.0" ry="0.6" opacity="0.71"/><ellipse cx="118.4" cy="315.5" rx="1.1" ry="0.6" opacity="0.63"/><ellipse cx="120.7" cy="315.0" rx="1.4" ry="0.7" opacity="0.98"/><ellipse cx="118.9" cy="315.6" rx="1.2" ry="0.5" opacity="0.75"/><ellipse cx="117.5" cy="315.1" rx="1.4" ry="0.7" opacity="0.67"/><ellipse cx="119.9" cy="315.2" rx="2.0" ry="0.6" opacity="0.90"/><ellipse cx="120.8" cy="315.4" rx="1.5" ry="0.5" opacity="0.85"/><ellipse cx="128.3" cy="315.1" rx="2.1" ry="0.5" opacity="0.68"/><ellipse cx="126.2" cy="315.4" rx="1.0" ry="0.6" opacity="0.80"/><ellipse cx="122.4" cy="315.0" rx="1.2" ry="0.4" opacity="0.80"/><ellipse cx="128.8" cy="315.1" rx="2.0" ry="0.4" opacity="0.69"/><ellipse cx="127.3" cy="315.3" rx="1.8" ry="0.6" opacity="0.73"/><ellipse cx="132.0" cy="315.1" rx="1.4" ry="0.6" opacity="0.71"/><ellipse cx="143.3" cy="360.0" rx="1.6" ry="0.7" opacity="0.96"/><ellipse cx="142.1" cy="359.5" rx="1.4" ry="0.7" opacity="0.93"/><ellipse cx="147.8" cy="359.9" rx="1.6" ry="0.6" opacity="0.93"/><ellipse cx="149.3" cy="359.6" rx="1.8" ry="0.8" opacity="0.78"/><ellipse cx="150.5" cy="360.3" rx="2.0" ry="0.7" opacity="0.95"/><ellipse cx="142.6" cy="360.2" rx="1.7" ry="0.6" opacity="0.58"/><ellipse cx="147.4" cy="359.8" rx="1.2" ry="0.6" opacity="0.59"/><ellipse cx="148.3" cy="360.3" rx="1.4" ry="0.7" opacity="0.58"/><ellipse cx="149.2" cy="359.5" rx="1.7" ry="0.5" opacity="0.67"/><ellipse cx="141.5" cy="360.1" rx="1.9" ry="0.5" opacity="0.92"/><ellipse cx="92.8" cy="353.1" rx="1.3" ry="0.6" opacity="0.81"/><ellipse cx="95.5" cy="352.7" rx="2.0" ry="0.8" opacity="0.79"/><ellipse cx="91.9" cy="352.5" rx="1.6" ry="0.7" opacity="0.58"/><ellipse cx="103.2" cy="353.1" rx="1.4" ry="0.7" opacity="0.81"/><ellipse cx="95.7" cy="353.6" rx="1.9" ry="0.9" opacity="0.70"/><ellipse cx="109.2" cy="353.0" rx="1.1" ry="0.7" opacity="0.86"/><ellipse cx="104.4" cy="352.8" rx="1.1" ry="0.7" opacity="0.68"/><ellipse cx="95.0" cy="353.0" rx="1.5" ry="0.6" opacity="0.87"/><ellipse cx="94.5" cy="353.1" rx="1.8" ry="0.9" opacity="0.89"/><ellipse cx="109.5" cy="353.2" rx="1.8" ry="0.5" opacity="0.64"/><ellipse cx="91.7" cy="353.2" rx="1.7" ry="0.6" opacity="0.71"/><ellipse cx="94.3" cy="353.6" rx="1.3" ry="0.5" opacity="0.63"/><ellipse cx="98.2" cy="353.3" rx="1.5" ry="0.5" opacity="0.60"/><ellipse cx="94.3" cy="353.0" rx="2.2" ry="0.9" opacity="0.91"/><ellipse cx="100.4" cy="352.6" rx="1.0" ry="0.7" opacity="0.78"/><ellipse cx="94.7" cy="352.5" rx="2.1" ry="0.8" opacity="0.98"/><ellipse cx="109.6" cy="353.3" rx="1.4" ry="0.8" opacity="0.93"/><ellipse cx="93.0" cy="352.7" rx="1.7" ry="0.7" opacity="0.55"/><ellipse cx="107.1" cy="353.0" rx="1.0" ry="0.9" opacity="0.79"/><ellipse cx="100.5" cy="331.2" rx="2.1" ry="0.5" opacity="0.84"/><ellipse cx="101.7" cy="331.8" rx="1.4" ry="0.4" opacity="0.82"/><ellipse cx="100.9" cy="331.2" rx="1.7" ry="0.6" opacity="0.87"/><ellipse cx="103.9" cy="332.1" rx="1.0" ry="0.5" opacity="0.73"/><ellipse cx="107.0" cy="332.1" rx="1.7" ry="0.6" opacity="0.76"/><ellipse cx="101.9" cy="331.4" rx="1.0" ry="0.4" opacity="0.99"/><ellipse cx="102.2" cy="331.7" rx="2.0" ry="0.6" opacity="0.88"/><ellipse cx="99.9" cy="331.5" rx="1.9" ry="0.4" opacity="0.57"/><ellipse cx="102.9" cy="331.2" rx="1.8" ry="0.7" opacity="0.84"/><ellipse cx="108.9" cy="332.5" rx="0.9" ry="0.6" opacity="0.60"/><ellipse cx="157.9" cy="391.7" rx="1.9" ry="0.4" opacity="0.78"/><ellipse cx="146.7" cy="392.3" rx="2.1" ry="0.4" opacity="0.93"/><ellipse cx="152.6" cy="392.0" rx="1.7" ry="0.6" opacity="0.91"/><ellipse cx="145.5" cy="392.0" rx="1.3" ry="0.5" opacity="0.55"/><ellipse cx="154.1" cy="392.3" rx="2.0" ry="0.5" opacity="0.60"/><ellipse cx="153.1" cy="391.9" rx="1.0" ry="0.7" opacity="0.80"/><ellipse cx="149.1" cy="392.2" rx="2.0" ry="0.6" opacity="0.60"/><ellipse cx="149.5" cy="392.2" rx="1.1" ry="0.6" opacity="0.99"/><ellipse cx="154.4" cy="391.6" rx="1.0" ry="0.6" opacity="0.82"/><ellipse cx="151.7" cy="391.9" rx="1.7" ry="0.6" opacity="0.96"/><ellipse cx="154.9" cy="392.3" rx="2.0" ry="0.6" opacity="0.56"/><ellipse cx="154.3" cy="391.9" rx="2.0" ry="0.4" opacity="0.97"/><ellipse cx="151.0" cy="391.8" rx="1.3" ry="0.5" opacity="0.70"/><ellipse cx="110.9" cy="400.4" rx="1.8" ry="0.9" opacity="0.89"/><ellipse cx="119.0" cy="399.4" rx="1.3" ry="0.6" opacity="0.74"/><ellipse cx="109.9" cy="400.4" rx="2.1" ry="0.6" opacity="0.90"/><ellipse cx="118.2" cy="399.6" rx="1.6" ry="0.5" opacity="0.92"/><ellipse cx="113.3" cy="399.5" rx="1.6" ry="0.9" opacity="0.62"/><ellipse cx="115.5" cy="399.5" rx="2.1" ry="0.7" opacity="0.96"/><ellipse cx="117.5" cy="398.9" rx="1.2" ry="0.6" opacity="0.96"/><ellipse cx="109.8" cy="400.2" rx="2.2" ry="0.6" opacity="0.75"/><ellipse cx="117.1" cy="399.6" rx="1.9" ry="0.6" opacity="0.67"/><ellipse cx="110.5" cy="399.6" rx="1.2" ry="0.9" opacity="0.84"/></g>
<path d="M32,428.6C32,423.5 35,421 38.5,421C42,421 45,423.5 45,428.6Z" fill="#ece6e0" filter="url(#bl1)"/>
<path d="M33.3,428.6C33.5,425.5 35.5,423.9 38.3,423.9C41,423.9 43,425.5 43.3,428.6Z" fill="#3b322b"/>
<circle cx="44.5" cy="423.6" r="0.9" fill="#5a5048"/>
<path d="M119.40,301.60L123.80,306.00M119.40,306.00L123.80,301.60" stroke="#e8486a" stroke-width="0.9" fill="none"/>
<path d="M119.40,332.00L123.80,336.40M119.40,336.40L123.80,332.00" stroke="#e8486a" stroke-width="0.9" fill="none"/>
<text x="157.50" y="313.70" font-size="7.6" font-weight="bold" text-anchor="middle" fill="#111" >high-<tspan font-style="italic">K</tspan> zone</text>
<text x="155.50" y="422.90" font-size="7.6" font-weight="bold" text-anchor="middle" fill="#111" >low-<tspan font-style="italic">K</tspan> zone</text>
<path d="M31.5,258.20h3M31.5,272.10h2M31.5,288.20h3M31.5,303.60h2M31.5,318.10h3M31.5,332.80h2M31.5,348.30h3M31.5,364.20h2M31.5,379.80h3M31.5,395.70h2M31.5,411.70h3M31.5,427.06h2M34.30,428.6v-2.5M49.12,428.6v-2.5M63.95,428.6v-2.5M78.77,428.6v-2.5M93.60,428.6v-2.5M108.42,428.6v-2.5M123.25,428.6v-2.5M138.07,428.6v-2.5M152.90,428.6v-2.5M167.72,428.6v-2.5" stroke="#222" stroke-width="1" fill="none"/>
<path d="M31.5,428.6V257.8H181.6V428.6Z" fill="none" stroke="#3a3a3a" stroke-width="1"/>
<text x="28.30" y="262.70" font-size="10.2" font-weight="bold" text-anchor="end" fill="#000" >0</text>
<text x="28.30" y="292.70" font-size="10.2" font-weight="bold" text-anchor="end" fill="#000" >10</text>
<text x="28.30" y="322.60" font-size="10.2" font-weight="bold" text-anchor="end" fill="#000" >20</text>
<text x="28.30" y="352.80" font-size="10.2" font-weight="bold" text-anchor="end" fill="#000" >30</text>
<text x="28.30" y="384.30" font-size="10.2" font-weight="bold" text-anchor="end" fill="#000" >40</text>
<text x="28.30" y="416.20" font-size="10.2" font-weight="bold" text-anchor="end" fill="#000" >50</text>
<text x="34.30" y="442.50" font-size="10.2" font-weight="bold" text-anchor="middle" fill="#000" >0</text>
<text x="93.60" y="442.50" font-size="10.2" font-weight="bold" text-anchor="middle" fill="#000" >20</text>
<text x="152.90" y="442.50" font-size="10.2" font-weight="bold" text-anchor="middle" fill="#000" >40</text>
<text x="106.30" y="455.30" font-size="10.5" font-weight="bold" text-anchor="middle" fill="#000" >Length (cm)</text>
<text transform="translate(9.3,343.7) rotate(-90)" font-size="10.5" font-weight="bold" text-anchor="middle" fill="#000">Depth (cm)</text>
</svg>
</body></html>
